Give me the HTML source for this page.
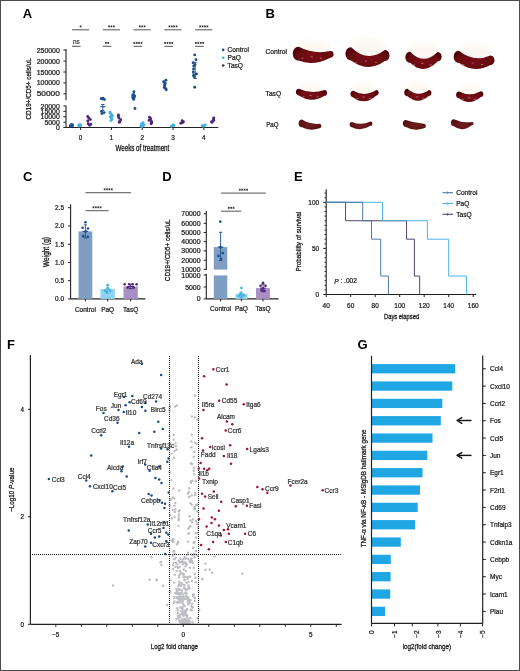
<!DOCTYPE html>
<html><head><meta charset="utf-8"><style>
html,body{margin:0;padding:0;background:#fff;}
svg{display:block;will-change:transform;filter:blur(0.3px);}
text{font-family:"Liberation Sans", sans-serif;} text.r{stroke:#1a1a1a;stroke-width:0.22px;}
</style></head><body>
<svg width="520" height="671" viewBox="0 0 520 671">
<defs><radialGradient id="sp" cx="50%" cy="55%" r="60%">
<stop offset="0" stop-color="#7a0e18"/><stop offset="0.6" stop-color="#6a0810"/><stop offset="1" stop-color="#4e050b"/></radialGradient>
<radialGradient id="sp2" cx="50%" cy="55%" r="60%">
<stop offset="0" stop-color="#722020"/><stop offset="0.6" stop-color="#621618"/><stop offset="1" stop-color="#4c1012"/></radialGradient>
<filter id="blur1" x="-30%" y="-50%" width="160%" height="200%"><feGaussianBlur stdDeviation="2.2"/></filter>
<filter id="blur0" x="-10%" y="-10%" width="120%" height="120%"><feGaussianBlur stdDeviation="0.35"/></filter></defs>
<rect x="0" y="0" width="520" height="671" fill="#fff"/>
<text x="22.80" y="17.80" font-size="13" text-anchor="start" fill="#000" dominant-baseline="alphabetic" font-weight="bold" >A</text>
<text x="265.40" y="17.70" font-size="13" text-anchor="start" fill="#000" dominant-baseline="alphabetic" font-weight="bold" >B</text>
<text x="23.00" y="181.20" font-size="13" text-anchor="start" fill="#000" dominant-baseline="alphabetic" font-weight="bold" >C</text>
<text x="162.20" y="180.90" font-size="13" text-anchor="start" fill="#000" dominant-baseline="alphabetic" font-weight="bold" >D</text>
<text x="294.00" y="181.00" font-size="13" text-anchor="start" fill="#000" dominant-baseline="alphabetic" font-weight="bold" >E</text>
<text x="7.00" y="348.80" font-size="13" text-anchor="start" fill="#000" dominant-baseline="alphabetic" font-weight="bold" >F</text>
<text x="357.60" y="348.60" font-size="13" text-anchor="start" fill="#000" dominant-baseline="alphabetic" font-weight="bold" >G</text>
<line x1="66.00" y1="49.00" x2="66.00" y2="100.20" stroke="#222" stroke-width="1.1" />
<line x1="66.00" y1="105.60" x2="66.00" y2="127.60" stroke="#222" stroke-width="1.1" />
<line x1="63.40" y1="50.00" x2="66.00" y2="50.00" stroke="#222" stroke-width="1" />
<text x="59.80" y="50.00" font-size="6.4" text-anchor="end" fill="#1a1a1a" dominant-baseline="central" stroke="#1a1a1a" stroke-width="0.22" textLength="23.1" lengthAdjust="spacingAndGlyphs" >250000</text>
<line x1="63.40" y1="61.10" x2="66.00" y2="61.10" stroke="#222" stroke-width="1" />
<text x="59.80" y="61.10" font-size="6.4" text-anchor="end" fill="#1a1a1a" dominant-baseline="central" stroke="#1a1a1a" stroke-width="0.22" textLength="23.1" lengthAdjust="spacingAndGlyphs" >200000</text>
<line x1="63.40" y1="72.00" x2="66.00" y2="72.00" stroke="#222" stroke-width="1" />
<text x="59.80" y="72.00" font-size="6.4" text-anchor="end" fill="#1a1a1a" dominant-baseline="central" stroke="#1a1a1a" stroke-width="0.22" textLength="23.1" lengthAdjust="spacingAndGlyphs" >150000</text>
<line x1="63.40" y1="82.90" x2="66.00" y2="82.90" stroke="#222" stroke-width="1" />
<text x="59.80" y="82.90" font-size="6.4" text-anchor="end" fill="#1a1a1a" dominant-baseline="central" stroke="#1a1a1a" stroke-width="0.22" textLength="23.1" lengthAdjust="spacingAndGlyphs" >100000</text>
<line x1="63.40" y1="93.80" x2="66.00" y2="93.80" stroke="#222" stroke-width="1" />
<text x="59.80" y="93.80" font-size="6.4" text-anchor="end" fill="#1a1a1a" dominant-baseline="central" stroke="#1a1a1a" stroke-width="0.22" textLength="23.1" lengthAdjust="spacingAndGlyphs" >50000</text>
<line x1="63.40" y1="106.00" x2="66.00" y2="106.00" stroke="#222" stroke-width="1" />
<text x="59.80" y="106.00" font-size="6.4" text-anchor="end" fill="#1a1a1a" dominant-baseline="central" stroke="#1a1a1a" stroke-width="0.22" textLength="19.25" lengthAdjust="spacingAndGlyphs" >20000</text>
<line x1="63.40" y1="111.40" x2="66.00" y2="111.40" stroke="#222" stroke-width="1" />
<text x="59.80" y="111.40" font-size="6.4" text-anchor="end" fill="#1a1a1a" dominant-baseline="central" stroke="#1a1a1a" stroke-width="0.22" textLength="19.25" lengthAdjust="spacingAndGlyphs" >15000</text>
<line x1="63.40" y1="116.80" x2="66.00" y2="116.80" stroke="#222" stroke-width="1" />
<text x="59.80" y="116.80" font-size="6.4" text-anchor="end" fill="#1a1a1a" dominant-baseline="central" stroke="#1a1a1a" stroke-width="0.22" textLength="19.25" lengthAdjust="spacingAndGlyphs" >10000</text>
<line x1="63.40" y1="122.20" x2="66.00" y2="122.20" stroke="#222" stroke-width="1" />
<text x="59.80" y="122.20" font-size="6.4" text-anchor="end" fill="#1a1a1a" dominant-baseline="central" stroke="#1a1a1a" stroke-width="0.22" textLength="15.4" lengthAdjust="spacingAndGlyphs" >5000</text>
<line x1="63.40" y1="127.50" x2="66.00" y2="127.50" stroke="#222" stroke-width="1" />
<text x="59.80" y="127.50" font-size="6.4" text-anchor="end" fill="#1a1a1a" dominant-baseline="central" stroke="#1a1a1a" stroke-width="0.22" textLength="3.85" lengthAdjust="spacingAndGlyphs" >0</text>
<text x="0" y="0" font-size="7.8" text-anchor="middle" fill="#1a1a1a" dominant-baseline="central" stroke="#1a1a1a" stroke-width="0.3" textLength="61.1" lengthAdjust="spacingAndGlyphs" transform="translate(28.10,88.90) rotate(-90)" >CD19+/CD5+ cells/uL</text>
<line x1="66.00" y1="127.50" x2="218.30" y2="127.50" stroke="#222" stroke-width="1.1" />
<line x1="80.60" y1="127.50" x2="80.60" y2="130.00" stroke="#222" stroke-width="1" />
<text x="80.60" y="137.30" font-size="6.4" text-anchor="middle" fill="#1a1a1a" dominant-baseline="central" stroke="#1a1a1a" stroke-width="0.22" >0</text>
<line x1="111.40" y1="127.50" x2="111.40" y2="130.00" stroke="#222" stroke-width="1" />
<text x="111.40" y="137.30" font-size="6.4" text-anchor="middle" fill="#1a1a1a" dominant-baseline="central" stroke="#1a1a1a" stroke-width="0.22" >1</text>
<line x1="142.20" y1="127.50" x2="142.20" y2="130.00" stroke="#222" stroke-width="1" />
<text x="142.20" y="137.30" font-size="6.4" text-anchor="middle" fill="#1a1a1a" dominant-baseline="central" stroke="#1a1a1a" stroke-width="0.22" >2</text>
<line x1="173.00" y1="127.50" x2="173.00" y2="130.00" stroke="#222" stroke-width="1" />
<text x="173.00" y="137.30" font-size="6.4" text-anchor="middle" fill="#1a1a1a" dominant-baseline="central" stroke="#1a1a1a" stroke-width="0.22" >3</text>
<line x1="203.80" y1="127.50" x2="203.80" y2="130.00" stroke="#222" stroke-width="1" />
<text x="203.80" y="137.30" font-size="6.4" text-anchor="middle" fill="#1a1a1a" dominant-baseline="central" stroke="#1a1a1a" stroke-width="0.22" >4</text>
<text x="142.40" y="148.50" font-size="8.2" text-anchor="middle" fill="#1a1a1a" dominant-baseline="central" stroke="#1a1a1a" stroke-width="0.3" textLength="53.8" lengthAdjust="spacingAndGlyphs" >Weeks of treatment</text>
<line x1="72.00" y1="29.80" x2="89.20" y2="29.80" stroke="#555" stroke-width="1.0" />
<line x1="72.00" y1="46.30" x2="80.60" y2="46.30" stroke="#555" stroke-width="1.0" />
<path d="M80.60,25.40V27.40M79.70,25.90L81.50,26.90M79.70,26.90L81.50,25.90" stroke="#222" stroke-width="0.7" fill="none"/>
<text x="76.30" y="41.30" font-size="6.4" text-anchor="middle" fill="#444" dominant-baseline="central" stroke="#444" stroke-width="0.22" >ns</text>
<line x1="102.80" y1="29.80" x2="120.00" y2="29.80" stroke="#555" stroke-width="1.0" />
<line x1="102.80" y1="46.30" x2="111.40" y2="46.30" stroke="#555" stroke-width="1.0" />
<path d="M109.00,25.40V27.40M108.10,25.90L109.90,26.90M108.10,26.90L109.90,25.90" stroke="#222" stroke-width="0.7" fill="none"/>
<path d="M111.40,25.40V27.40M110.50,25.90L112.30,26.90M110.50,26.90L112.30,25.90" stroke="#222" stroke-width="0.7" fill="none"/>
<path d="M113.80,25.40V27.40M112.90,25.90L114.70,26.90M112.90,26.90L114.70,25.90" stroke="#222" stroke-width="0.7" fill="none"/>
<path d="M105.90,41.90V43.90M105.00,42.40L106.80,43.40M105.00,43.40L106.80,42.40" stroke="#222" stroke-width="0.7" fill="none"/>
<path d="M108.30,41.90V43.90M107.40,42.40L109.20,43.40M107.40,43.40L109.20,42.40" stroke="#222" stroke-width="0.7" fill="none"/>
<line x1="133.60" y1="29.80" x2="150.80" y2="29.80" stroke="#555" stroke-width="1.0" />
<line x1="133.60" y1="46.30" x2="142.20" y2="46.30" stroke="#555" stroke-width="1.0" />
<path d="M139.80,25.40V27.40M138.90,25.90L140.70,26.90M138.90,26.90L140.70,25.90" stroke="#222" stroke-width="0.7" fill="none"/>
<path d="M142.20,25.40V27.40M141.30,25.90L143.10,26.90M141.30,26.90L143.10,25.90" stroke="#222" stroke-width="0.7" fill="none"/>
<path d="M144.60,25.40V27.40M143.70,25.90L145.50,26.90M143.70,26.90L145.50,25.90" stroke="#222" stroke-width="0.7" fill="none"/>
<path d="M134.30,41.90V43.90M133.40,42.40L135.20,43.40M133.40,43.40L135.20,42.40" stroke="#222" stroke-width="0.7" fill="none"/>
<path d="M136.70,41.90V43.90M135.80,42.40L137.60,43.40M135.80,43.40L137.60,42.40" stroke="#222" stroke-width="0.7" fill="none"/>
<path d="M139.10,41.90V43.90M138.20,42.40L140.00,43.40M138.20,43.40L140.00,42.40" stroke="#222" stroke-width="0.7" fill="none"/>
<path d="M141.50,41.90V43.90M140.60,42.40L142.40,43.40M140.60,43.40L142.40,42.40" stroke="#222" stroke-width="0.7" fill="none"/>
<line x1="164.40" y1="29.80" x2="181.60" y2="29.80" stroke="#555" stroke-width="1.0" />
<line x1="164.40" y1="46.30" x2="173.00" y2="46.30" stroke="#555" stroke-width="1.0" />
<path d="M169.40,25.40V27.40M168.50,25.90L170.30,26.90M168.50,26.90L170.30,25.90" stroke="#222" stroke-width="0.7" fill="none"/>
<path d="M171.80,25.40V27.40M170.90,25.90L172.70,26.90M170.90,26.90L172.70,25.90" stroke="#222" stroke-width="0.7" fill="none"/>
<path d="M174.20,25.40V27.40M173.30,25.90L175.10,26.90M173.30,26.90L175.10,25.90" stroke="#222" stroke-width="0.7" fill="none"/>
<path d="M176.60,25.40V27.40M175.70,25.90L177.50,26.90M175.70,26.90L177.50,25.90" stroke="#222" stroke-width="0.7" fill="none"/>
<path d="M165.10,41.90V43.90M164.20,42.40L166.00,43.40M164.20,43.40L166.00,42.40" stroke="#222" stroke-width="0.7" fill="none"/>
<path d="M167.50,41.90V43.90M166.60,42.40L168.40,43.40M166.60,43.40L168.40,42.40" stroke="#222" stroke-width="0.7" fill="none"/>
<path d="M169.90,41.90V43.90M169.00,42.40L170.80,43.40M169.00,43.40L170.80,42.40" stroke="#222" stroke-width="0.7" fill="none"/>
<path d="M172.30,41.90V43.90M171.40,42.40L173.20,43.40M171.40,43.40L173.20,42.40" stroke="#222" stroke-width="0.7" fill="none"/>
<line x1="195.20" y1="29.80" x2="212.40" y2="29.80" stroke="#555" stroke-width="1.0" />
<line x1="195.20" y1="46.30" x2="203.80" y2="46.30" stroke="#555" stroke-width="1.0" />
<path d="M200.20,25.40V27.40M199.30,25.90L201.10,26.90M199.30,26.90L201.10,25.90" stroke="#222" stroke-width="0.7" fill="none"/>
<path d="M202.60,25.40V27.40M201.70,25.90L203.50,26.90M201.70,26.90L203.50,25.90" stroke="#222" stroke-width="0.7" fill="none"/>
<path d="M205.00,25.40V27.40M204.10,25.90L205.90,26.90M204.10,26.90L205.90,25.90" stroke="#222" stroke-width="0.7" fill="none"/>
<path d="M207.40,25.40V27.40M206.50,25.90L208.30,26.90M206.50,26.90L208.30,25.90" stroke="#222" stroke-width="0.7" fill="none"/>
<path d="M195.90,41.90V43.90M195.00,42.40L196.80,43.40M195.00,43.40L196.80,42.40" stroke="#222" stroke-width="0.7" fill="none"/>
<path d="M198.30,41.90V43.90M197.40,42.40L199.20,43.40M197.40,43.40L199.20,42.40" stroke="#222" stroke-width="0.7" fill="none"/>
<path d="M200.70,41.90V43.90M199.80,42.40L201.60,43.40M199.80,43.40L201.60,42.40" stroke="#222" stroke-width="0.7" fill="none"/>
<path d="M203.10,41.90V43.90M202.20,42.40L204.00,43.40M202.20,43.40L204.00,42.40" stroke="#222" stroke-width="0.7" fill="none"/>
<circle cx="71.37" cy="124.80" r="1.45" fill="#1c4f8a" />
<circle cx="70.74" cy="125.30" r="1.45" fill="#1c4f8a" />
<circle cx="72.54" cy="125.80" r="1.45" fill="#1c4f8a" />
<circle cx="70.46" cy="126.20" r="1.45" fill="#1c4f8a" />
<circle cx="72.13" cy="124.60" r="1.45" fill="#1c4f8a" />
<circle cx="71.52" cy="125.90" r="1.45" fill="#1c4f8a" />
<circle cx="79.01" cy="125.00" r="1.45" fill="#3fb3e3" />
<circle cx="80.63" cy="125.60" r="1.45" fill="#3fb3e3" />
<circle cx="78.93" cy="126.00" r="1.45" fill="#3fb3e3" />
<circle cx="80.36" cy="124.80" r="1.45" fill="#3fb3e3" />
<circle cx="79.05" cy="125.80" r="1.45" fill="#3fb3e3" />
<circle cx="87.73" cy="116.50" r="1.45" fill="#4e2577" />
<circle cx="88.93" cy="118.20" r="1.45" fill="#4e2577" />
<circle cx="90.38" cy="119.60" r="1.45" fill="#4e2577" />
<circle cx="87.85" cy="121.00" r="1.45" fill="#4e2577" />
<circle cx="88.20" cy="123.80" r="1.45" fill="#4e2577" />
<circle cx="89.66" cy="125.20" r="1.45" fill="#4e2577" />
<circle cx="90.81" cy="124.20" r="1.45" fill="#4e2577" />
<circle cx="103.08" cy="98.20" r="1.45" fill="#1c4f8a" />
<circle cx="102.43" cy="99.00" r="1.45" fill="#1c4f8a" />
<circle cx="104.51" cy="99.60" r="1.45" fill="#1c4f8a" />
<circle cx="101.17" cy="98.60" r="1.45" fill="#1c4f8a" />
<circle cx="104.09" cy="112.60" r="1.45" fill="#1c4f8a" />
<circle cx="102.04" cy="113.60" r="1.45" fill="#1c4f8a" />
<circle cx="101.52" cy="111.50" r="1.45" fill="#1c4f8a" />
<circle cx="110.02" cy="112.30" r="1.45" fill="#3fb3e3" />
<circle cx="110.71" cy="114.00" r="1.45" fill="#3fb3e3" />
<circle cx="112.54" cy="115.50" r="1.45" fill="#3fb3e3" />
<circle cx="110.25" cy="117.00" r="1.45" fill="#3fb3e3" />
<circle cx="111.69" cy="118.50" r="1.45" fill="#3fb3e3" />
<circle cx="111.90" cy="119.50" r="1.45" fill="#3fb3e3" />
<circle cx="110.94" cy="120.60" r="1.45" fill="#3fb3e3" />
<circle cx="111.57" cy="116.20" r="1.45" fill="#3fb3e3" />
<circle cx="118.43" cy="115.00" r="1.45" fill="#4e2577" />
<circle cx="118.41" cy="116.50" r="1.45" fill="#4e2577" />
<circle cx="118.94" cy="118.00" r="1.45" fill="#4e2577" />
<circle cx="120.65" cy="119.80" r="1.45" fill="#4e2577" />
<circle cx="119.74" cy="121.50" r="1.45" fill="#4e2577" />
<circle cx="119.33" cy="122.30" r="1.45" fill="#4e2577" />
<circle cx="133.91" cy="91.70" r="1.45" fill="#1c4f8a" />
<circle cx="133.43" cy="94.50" r="1.45" fill="#1c4f8a" />
<circle cx="132.88" cy="95.20" r="1.45" fill="#1c4f8a" />
<circle cx="134.66" cy="96.00" r="1.45" fill="#1c4f8a" />
<circle cx="134.32" cy="96.80" r="1.45" fill="#1c4f8a" />
<circle cx="132.68" cy="97.50" r="1.45" fill="#1c4f8a" />
<circle cx="133.87" cy="98.40" r="1.45" fill="#1c4f8a" />
<circle cx="133.69" cy="99.40" r="1.45" fill="#1c4f8a" />
<circle cx="134.95" cy="108.50" r="1.45" fill="#1c4f8a" />
<circle cx="143.03" cy="122.80" r="1.45" fill="#3fb3e3" />
<circle cx="141.44" cy="124.00" r="1.45" fill="#3fb3e3" />
<circle cx="143.93" cy="125.00" r="1.45" fill="#3fb3e3" />
<circle cx="140.83" cy="126.00" r="1.45" fill="#3fb3e3" />
<circle cx="141.91" cy="126.50" r="1.45" fill="#3fb3e3" />
<circle cx="143.13" cy="125.50" r="1.45" fill="#3fb3e3" />
<circle cx="149.55" cy="117.30" r="1.45" fill="#4e2577" />
<circle cx="150.76" cy="118.80" r="1.45" fill="#4e2577" />
<circle cx="149.14" cy="120.30" r="1.45" fill="#4e2577" />
<circle cx="151.41" cy="121.50" r="1.45" fill="#4e2577" />
<circle cx="151.75" cy="122.80" r="1.45" fill="#4e2577" />
<circle cx="151.06" cy="123.80" r="1.45" fill="#4e2577" />
<circle cx="165.90" cy="80.30" r="1.45" fill="#1c4f8a" />
<circle cx="163.65" cy="81.80" r="1.45" fill="#1c4f8a" />
<circle cx="165.18" cy="83.20" r="1.45" fill="#1c4f8a" />
<circle cx="164.78" cy="84.50" r="1.45" fill="#1c4f8a" />
<circle cx="164.72" cy="86.00" r="1.45" fill="#1c4f8a" />
<circle cx="164.22" cy="87.50" r="1.45" fill="#1c4f8a" />
<circle cx="165.76" cy="88.60" r="1.45" fill="#1c4f8a" />
<circle cx="166.18" cy="89.80" r="1.45" fill="#1c4f8a" />
<circle cx="172.91" cy="125.00" r="1.45" fill="#3fb3e3" />
<circle cx="173.59" cy="125.80" r="1.45" fill="#3fb3e3" />
<circle cx="171.42" cy="126.30" r="1.45" fill="#3fb3e3" />
<circle cx="173.73" cy="125.30" r="1.45" fill="#3fb3e3" />
<circle cx="182.13" cy="120.80" r="1.45" fill="#4e2577" />
<circle cx="183.38" cy="121.80" r="1.45" fill="#4e2577" />
<circle cx="182.76" cy="122.60" r="1.45" fill="#4e2577" />
<circle cx="180.82" cy="123.20" r="1.45" fill="#4e2577" />
<circle cx="194.70" cy="54.90" r="1.45" fill="#1c4f8a" />
<circle cx="195.94" cy="59.80" r="1.45" fill="#1c4f8a" />
<circle cx="193.10" cy="62.70" r="1.45" fill="#1c4f8a" />
<circle cx="195.03" cy="64.80" r="1.45" fill="#1c4f8a" />
<circle cx="193.74" cy="66.00" r="1.45" fill="#1c4f8a" />
<circle cx="193.52" cy="69.00" r="1.45" fill="#1c4f8a" />
<circle cx="193.26" cy="72.00" r="1.45" fill="#1c4f8a" />
<circle cx="196.38" cy="74.00" r="1.45" fill="#1c4f8a" />
<circle cx="193.57" cy="75.50" r="1.45" fill="#1c4f8a" />
<circle cx="194.09" cy="76.80" r="1.45" fill="#1c4f8a" />
<circle cx="194.72" cy="87.20" r="1.45" fill="#1c4f8a" />
<circle cx="205.14" cy="125.00" r="1.45" fill="#3fb3e3" />
<circle cx="202.29" cy="125.70" r="1.45" fill="#3fb3e3" />
<circle cx="203.62" cy="126.30" r="1.45" fill="#3fb3e3" />
<circle cx="203.98" cy="125.40" r="1.45" fill="#3fb3e3" />
<circle cx="213.78" cy="118.00" r="1.45" fill="#4e2577" />
<circle cx="213.55" cy="119.30" r="1.45" fill="#4e2577" />
<circle cx="213.71" cy="120.60" r="1.45" fill="#4e2577" />
<circle cx="211.60" cy="121.80" r="1.45" fill="#4e2577" />
<circle cx="212.10" cy="122.40" r="1.45" fill="#4e2577" />
<line x1="100.20" y1="106.70" x2="105.40" y2="106.70" stroke="#1c4f8a" stroke-width="1.1" />
<line x1="102.80" y1="104.50" x2="102.80" y2="110.50" stroke="#1c4f8a" stroke-width="0.9" />
<line x1="101.24" y1="104.50" x2="104.36" y2="104.50" stroke="#1c4f8a" stroke-width="0.9" />
<line x1="101.24" y1="110.50" x2="104.36" y2="110.50" stroke="#1c4f8a" stroke-width="0.9" />
<line x1="192.60" y1="74.00" x2="197.80" y2="74.00" stroke="#1c4f8a" stroke-width="1.1" />
<line x1="195.20" y1="62.50" x2="195.20" y2="78.50" stroke="#1c4f8a" stroke-width="0.9" />
<line x1="193.64" y1="62.50" x2="196.76" y2="62.50" stroke="#1c4f8a" stroke-width="0.9" />
<line x1="193.64" y1="78.50" x2="196.76" y2="78.50" stroke="#1c4f8a" stroke-width="0.9" />
<circle cx="223.20" cy="49.90" r="1.3" fill="#1c4f8a" />
<text x="227.60" y="49.90" font-size="6.6" text-anchor="start" fill="#1a1a1a" dominant-baseline="central" stroke="#1a1a1a" stroke-width="0.22" >Control</text>
<circle cx="223.20" cy="57.70" r="1.3" fill="#3fb3e3" />
<text x="227.60" y="57.70" font-size="6.6" text-anchor="start" fill="#1a1a1a" dominant-baseline="central" stroke="#1a1a1a" stroke-width="0.22" >PaQ</text>
<circle cx="223.20" cy="65.50" r="1.3" fill="#4e2577" />
<text x="227.60" y="65.50" font-size="6.6" text-anchor="start" fill="#1a1a1a" dominant-baseline="central" stroke="#1a1a1a" stroke-width="0.22" >TasQ</text>
<text x="265.50" y="51.90" font-size="6.6" text-anchor="start" fill="#1a1a1a" dominant-baseline="central" stroke="#1a1a1a" stroke-width="0.22" textLength="21.5" lengthAdjust="spacingAndGlyphs" >Control</text>
<text x="265.60" y="93.00" font-size="6.6" text-anchor="start" fill="#1a1a1a" dominant-baseline="central" stroke="#1a1a1a" stroke-width="0.22" textLength="15.5" lengthAdjust="spacingAndGlyphs" >TasQ</text>
<text x="266.20" y="124.50" font-size="6.6" text-anchor="start" fill="#1a1a1a" dominant-baseline="central" stroke="#1a1a1a" stroke-width="0.22" textLength="12.5" lengthAdjust="spacingAndGlyphs" >PaQ</text>
<ellipse cx="312.9" cy="48.0" rx="16.8" ry="8.0" fill="#faf1e2" opacity="0.45" filter="url(#blur1)"/>
<path d="M298.8,46.8 Q312.9,54.6 330.9,51.1 C334.5,51.1 334.5,57.4 330.9,57.4 Q312.9,66.6 298.8,60.5 C290.9,60.5 290.9,46.8 298.8,46.8 Z" fill="url(#sp)" filter="url(#blur0)"/>
<ellipse cx="302.4" cy="58.3" rx="1.3" ry="0.6" fill="#e8b0b0" opacity="0.5"/>
<ellipse cx="311.7" cy="56.8" rx="1.3" ry="0.6" fill="#e8b0b0" opacity="0.5"/>
<ellipse cx="320.9" cy="58.3" rx="1.3" ry="0.6" fill="#e8b0b0" opacity="0.5"/>
<ellipse cx="367.4" cy="47.7" rx="18.2" ry="9.9" fill="#faf1e2" opacity="0.45" filter="url(#blur1)"/>
<path d="M351.2,47.2 Q367.4,63.3 384.8,50.1 C391.0,50.1 391.0,61.0 384.8,61.0 Q367.4,73.2 351.2,60.5 C343.6,60.5 343.6,47.2 351.2,47.2 Z" fill="url(#sp)" filter="url(#blur0)"/>
<ellipse cx="356.0" cy="62.5" rx="1.3" ry="0.6" fill="#e8b0b0" opacity="0.5"/>
<ellipse cx="366.0" cy="61.0" rx="1.3" ry="0.6" fill="#e8b0b0" opacity="0.5"/>
<ellipse cx="376.1" cy="62.5" rx="1.3" ry="0.6" fill="#e8b0b0" opacity="0.5"/>
<ellipse cx="423.5" cy="50.9" rx="15.1" ry="8.6" fill="#faf1e2" opacity="0.45" filter="url(#blur1)"/>
<path d="M410.2,51.7 Q423.5,65.8 437.6,52.0 C443.0,52.0 443.0,61.5 437.6,61.5 Q423.5,75.8 410.2,62.8 C403.8,62.8 403.8,51.7 410.2,51.7 Z" fill="url(#sp)" filter="url(#blur0)"/>
<ellipse cx="414.0" cy="64.9" rx="1.3" ry="0.6" fill="#e8b0b0" opacity="0.5"/>
<ellipse cx="422.3" cy="63.4" rx="1.3" ry="0.6" fill="#e8b0b0" opacity="0.5"/>
<ellipse cx="430.6" cy="64.9" rx="1.3" ry="0.6" fill="#e8b0b0" opacity="0.5"/>
<ellipse cx="474.0" cy="52.1" rx="16.9" ry="9.1" fill="#faf1e2" opacity="0.45" filter="url(#blur1)"/>
<path d="M458.9,50.7 Q474.0,62.9 490.4,55.5 C495.9,55.5 495.9,65.0 490.4,65.0 Q474.0,74.1 458.9,62.8 C452.0,62.8 452.0,50.7 458.9,50.7 Z" fill="url(#sp)" filter="url(#blur0)"/>
<ellipse cx="463.5" cy="64.5" rx="1.3" ry="0.6" fill="#e8b0b0" opacity="0.5"/>
<ellipse cx="472.8" cy="63.0" rx="1.3" ry="0.6" fill="#e8b0b0" opacity="0.5"/>
<ellipse cx="482.1" cy="64.5" rx="1.3" ry="0.6" fill="#e8b0b0" opacity="0.5"/>
<ellipse cx="311.4" cy="88.3" rx="12.8" ry="5.5" fill="#faf1e2" opacity="0.45" filter="url(#blur1)"/>
<path d="M298.8,88.7 Q311.4,94.7 324.6,90.0 C327.9,90.0 327.9,95.8 324.6,95.8 Q311.4,103.8 298.8,95.5 C294.9,95.5 294.9,88.7 298.8,88.7 Z" fill="url(#sp)" filter="url(#blur0)"/>
<ellipse cx="303.4" cy="96.8" rx="1.3" ry="0.6" fill="#e8b0b0" opacity="0.5"/>
<ellipse cx="310.5" cy="95.3" rx="1.3" ry="0.6" fill="#e8b0b0" opacity="0.5"/>
<ellipse cx="317.5" cy="96.8" rx="1.3" ry="0.6" fill="#e8b0b0" opacity="0.5"/>
<ellipse cx="364.5" cy="89.4" rx="11.6" ry="5.2" fill="#faf1e2" opacity="0.45" filter="url(#blur1)"/>
<path d="M353.4,90.7 Q364.5,97.4 376.4,90.1 C379.4,90.1 379.4,95.4 376.4,95.4 Q364.5,106.0 353.4,97.4 C349.5,97.4 349.5,90.7 353.4,90.7 Z" fill="url(#sp)" filter="url(#blur0)"/>
<ellipse cx="357.2" cy="98.6" rx="1.3" ry="0.6" fill="#e8b0b0" opacity="0.5"/>
<ellipse cx="363.6" cy="97.1" rx="1.3" ry="0.6" fill="#e8b0b0" opacity="0.5"/>
<ellipse cx="370.0" cy="98.6" rx="1.3" ry="0.6" fill="#e8b0b0" opacity="0.5"/>
<ellipse cx="417.8" cy="88.3" rx="11.3" ry="6.0" fill="#faf1e2" opacity="0.45" filter="url(#blur1)"/>
<path d="M407.5,88.7 Q417.8,98.2 429.0,90.0 C432.3,90.0 432.3,95.8 429.0,95.8 Q417.8,105.5 407.5,96.3 C403.1,96.3 403.1,88.7 407.5,88.7 Z" fill="url(#sp)" filter="url(#blur0)"/>
<ellipse cx="410.8" cy="98.3" rx="1.3" ry="0.6" fill="#e8b0b0" opacity="0.5"/>
<ellipse cx="417.0" cy="96.8" rx="1.3" ry="0.6" fill="#e8b0b0" opacity="0.5"/>
<ellipse cx="423.2" cy="98.3" rx="1.3" ry="0.6" fill="#e8b0b0" opacity="0.5"/>
<ellipse cx="469.7" cy="90.3" rx="11.3" ry="5.3" fill="#faf1e2" opacity="0.45" filter="url(#blur1)"/>
<path d="M459.0,91.5 Q469.7,97.1 480.9,91.2 C484.2,91.2 484.2,97.0 480.9,97.0 Q469.7,106.5 459.0,98.3 C455.1,98.3 455.1,91.5 459.0,91.5 Z" fill="url(#sp)" filter="url(#blur0)"/>
<ellipse cx="462.7" cy="99.2" rx="1.3" ry="0.6" fill="#e8b0b0" opacity="0.5"/>
<ellipse cx="468.9" cy="97.7" rx="1.3" ry="0.6" fill="#e8b0b0" opacity="0.5"/>
<ellipse cx="475.1" cy="99.2" rx="1.3" ry="0.6" fill="#e8b0b0" opacity="0.5"/>
<path d="M302.0,119.6 Q309.9,124.5 319.4,123.8 C322.0,123.8 322.0,128.3 319.4,128.3 Q309.9,131.4 302.0,127.3 C297.5,127.3 297.5,119.6 302.0,119.6 Z" fill="url(#sp2)" filter="url(#blur0)"/>
<path d="M351.9,121.9 Q360.9,125.9 370.6,121.5 C373.0,121.5 373.0,125.8 370.6,125.8 Q360.9,131.8 351.9,127.3 C348.8,127.3 348.8,121.9 351.9,121.9 Z" fill="url(#sp2)" filter="url(#blur0)"/>
<path d="M405.8,120.0 Q414.2,123.1 423.9,123.8 C426.5,123.8 426.5,128.3 423.9,128.3 Q414.2,131.6 405.8,126.9 C401.8,126.9 401.8,120.0 405.8,120.0 Z" fill="url(#sp2)" filter="url(#blur0)"/>
<path d="M453.9,119.2 Q462.1,123.2 472.2,121.9 C474.0,121.9 474.0,125.0 472.2,125.0 Q462.1,132.7 453.9,126.3 C449.9,126.3 449.9,119.2 453.9,119.2 Z" fill="url(#sp2)" filter="url(#blur0)"/>
<line x1="70.60" y1="204.20" x2="70.60" y2="298.90" stroke="#222" stroke-width="1.1" />
<line x1="68.00" y1="298.90" x2="70.60" y2="298.90" stroke="#222" stroke-width="1" />
<text x="64.00" y="298.90" font-size="6.4" text-anchor="end" fill="#1a1a1a" dominant-baseline="central" stroke="#1a1a1a" stroke-width="0.22" textLength="9.0" lengthAdjust="spacingAndGlyphs" >0.0</text>
<line x1="68.00" y1="280.66" x2="70.60" y2="280.66" stroke="#222" stroke-width="1" />
<text x="64.00" y="280.66" font-size="6.4" text-anchor="end" fill="#1a1a1a" dominant-baseline="central" stroke="#1a1a1a" stroke-width="0.22" textLength="9.0" lengthAdjust="spacingAndGlyphs" >0.5</text>
<line x1="68.00" y1="262.42" x2="70.60" y2="262.42" stroke="#222" stroke-width="1" />
<text x="64.00" y="262.42" font-size="6.4" text-anchor="end" fill="#1a1a1a" dominant-baseline="central" stroke="#1a1a1a" stroke-width="0.22" textLength="9.0" lengthAdjust="spacingAndGlyphs" >1.0</text>
<line x1="68.00" y1="244.18" x2="70.60" y2="244.18" stroke="#222" stroke-width="1" />
<text x="64.00" y="244.18" font-size="6.4" text-anchor="end" fill="#1a1a1a" dominant-baseline="central" stroke="#1a1a1a" stroke-width="0.22" textLength="9.0" lengthAdjust="spacingAndGlyphs" >1.5</text>
<line x1="68.00" y1="225.94" x2="70.60" y2="225.94" stroke="#222" stroke-width="1" />
<text x="64.00" y="225.94" font-size="6.4" text-anchor="end" fill="#1a1a1a" dominant-baseline="central" stroke="#1a1a1a" stroke-width="0.22" textLength="9.0" lengthAdjust="spacingAndGlyphs" >2.0</text>
<line x1="68.00" y1="207.70" x2="70.60" y2="207.70" stroke="#222" stroke-width="1" />
<text x="64.00" y="207.70" font-size="6.4" text-anchor="end" fill="#1a1a1a" dominant-baseline="central" stroke="#1a1a1a" stroke-width="0.22" textLength="9.0" lengthAdjust="spacingAndGlyphs" >2.5</text>
<line x1="70.60" y1="298.90" x2="145.40" y2="298.90" stroke="#222" stroke-width="1.1" />
<rect x="78.50" y="231.41" width="13.80" height="67.49" fill="#7e9fc3" />
<line x1="85.40" y1="298.90" x2="85.40" y2="301.40" stroke="#222" stroke-width="1" />
<text x="85.40" y="309.30" font-size="6.5" text-anchor="middle" fill="#1a1a1a" dominant-baseline="central" stroke="#1a1a1a" stroke-width="0.22" >Control</text>
<rect x="100.40" y="289.05" width="14.50" height="9.85" fill="#8ed3f1" />
<line x1="107.65" y1="298.90" x2="107.65" y2="301.40" stroke="#222" stroke-width="1" />
<text x="107.65" y="309.30" font-size="6.5" text-anchor="middle" fill="#1a1a1a" dominant-baseline="central" stroke="#1a1a1a" stroke-width="0.22" >PaQ</text>
<rect x="123.50" y="286.50" width="14.30" height="12.40" fill="#a98fc5" />
<line x1="130.65" y1="298.90" x2="130.65" y2="301.40" stroke="#222" stroke-width="1" />
<text x="130.65" y="309.30" font-size="6.5" text-anchor="middle" fill="#1a1a1a" dominant-baseline="central" stroke="#1a1a1a" stroke-width="0.22" >TasQ</text>
<line x1="82.60" y1="231.41" x2="88.20" y2="231.41" stroke="#1c4f8a" stroke-width="1.1" />
<line x1="85.40" y1="224.85" x2="85.40" y2="237.98" stroke="#1c4f8a" stroke-width="0.9" />
<line x1="83.72" y1="224.85" x2="87.08" y2="224.85" stroke="#1c4f8a" stroke-width="0.9" />
<line x1="83.72" y1="237.98" x2="87.08" y2="237.98" stroke="#1c4f8a" stroke-width="0.9" />
<circle cx="85.40" cy="222.29" r="1.3" fill="#1c4f8a" />
<circle cx="82.60" cy="227.76" r="1.3" fill="#1c4f8a" />
<circle cx="88.00" cy="228.49" r="1.3" fill="#1c4f8a" />
<circle cx="83.20" cy="236.15" r="1.3" fill="#1c4f8a" />
<circle cx="87.80" cy="236.88" r="1.3" fill="#1c4f8a" />
<circle cx="85.60" cy="231.41" r="1.3" fill="#1c4f8a" />
<line x1="104.85" y1="289.05" x2="110.45" y2="289.05" stroke="#3fb3e3" stroke-width="1.1" />
<line x1="107.65" y1="285.04" x2="107.65" y2="293.06" stroke="#3fb3e3" stroke-width="0.9" />
<line x1="105.97" y1="285.04" x2="109.33" y2="285.04" stroke="#3fb3e3" stroke-width="0.9" />
<line x1="105.97" y1="293.06" x2="109.33" y2="293.06" stroke="#3fb3e3" stroke-width="0.9" />
<circle cx="107.65" cy="285.04" r="1.3" fill="#3fb3e3" />
<circle cx="105.05" cy="290.87" r="1.3" fill="#3fb3e3" />
<circle cx="110.25" cy="290.87" r="1.3" fill="#3fb3e3" />
<circle cx="107.65" cy="287.96" r="1.3" fill="#3fb3e3" />
<circle cx="106.65" cy="292.33" r="1.3" fill="#3fb3e3" />
<line x1="127.45" y1="286.50" x2="133.85" y2="286.50" stroke="#4e2577" stroke-width="1.1" />
<line x1="130.65" y1="284.31" x2="130.65" y2="288.69" stroke="#4e2577" stroke-width="0.9" />
<line x1="128.73" y1="284.31" x2="132.57" y2="284.31" stroke="#4e2577" stroke-width="0.9" />
<line x1="128.73" y1="288.69" x2="132.57" y2="288.69" stroke="#4e2577" stroke-width="0.9" />
<circle cx="124.65" cy="284.31" r="1.3" fill="#4e2577" />
<circle cx="129.15" cy="284.31" r="1.3" fill="#4e2577" />
<circle cx="132.65" cy="284.31" r="1.3" fill="#4e2577" />
<circle cx="136.65" cy="284.31" r="1.3" fill="#4e2577" />
<circle cx="127.65" cy="287.59" r="1.3" fill="#4e2577" />
<circle cx="133.65" cy="287.59" r="1.3" fill="#4e2577" />
<line x1="85.40" y1="192.70" x2="130.90" y2="192.70" stroke="#555" stroke-width="1" />
<path d="M104.60,188.30V190.30M103.70,188.80L105.50,189.80M103.70,189.80L105.50,188.80" stroke="#222" stroke-width="0.7" fill="none"/>
<path d="M107.00,188.30V190.30M106.10,188.80L107.90,189.80M106.10,189.80L107.90,188.80" stroke="#222" stroke-width="0.7" fill="none"/>
<path d="M109.40,188.30V190.30M108.50,188.80L110.30,189.80M108.50,189.80L110.30,188.80" stroke="#222" stroke-width="0.7" fill="none"/>
<path d="M111.80,188.30V190.30M110.90,188.80L112.70,189.80M110.90,189.80L112.70,188.80" stroke="#222" stroke-width="0.7" fill="none"/>
<line x1="85.40" y1="210.70" x2="108.50" y2="210.70" stroke="#555" stroke-width="1" />
<path d="M93.40,206.30V208.30M92.50,206.80L94.30,207.80M92.50,207.80L94.30,206.80" stroke="#222" stroke-width="0.7" fill="none"/>
<path d="M95.80,206.30V208.30M94.90,206.80L96.70,207.80M94.90,207.80L96.70,206.80" stroke="#222" stroke-width="0.7" fill="none"/>
<path d="M98.20,206.30V208.30M97.30,206.80L99.10,207.80M97.30,207.80L99.10,206.80" stroke="#222" stroke-width="0.7" fill="none"/>
<path d="M100.60,206.30V208.30M99.70,206.80L101.50,207.80M99.70,207.80L101.50,206.80" stroke="#222" stroke-width="0.7" fill="none"/>
<text x="0" y="0" font-size="8.2" text-anchor="middle" fill="#1a1a1a" dominant-baseline="central" stroke="#1a1a1a" stroke-width="0.3" textLength="29.8" lengthAdjust="spacingAndGlyphs" transform="translate(46.20,252.00) rotate(-90)" >Weight (g)</text>
<line x1="206.30" y1="211.00" x2="206.30" y2="269.90" stroke="#222" stroke-width="1.1" />
<line x1="206.30" y1="273.80" x2="206.30" y2="298.90" stroke="#222" stroke-width="1.1" />
<line x1="203.70" y1="213.80" x2="206.30" y2="213.80" stroke="#222" stroke-width="1" />
<text x="200.60" y="213.80" font-size="6.4" text-anchor="end" fill="#1a1a1a" dominant-baseline="central" stroke="#1a1a1a" stroke-width="0.22" textLength="19.3" lengthAdjust="spacingAndGlyphs" >70000</text>
<line x1="203.70" y1="223.30" x2="206.30" y2="223.30" stroke="#222" stroke-width="1" />
<text x="200.60" y="223.30" font-size="6.4" text-anchor="end" fill="#1a1a1a" dominant-baseline="central" stroke="#1a1a1a" stroke-width="0.22" textLength="19.3" lengthAdjust="spacingAndGlyphs" >60000</text>
<line x1="203.70" y1="232.50" x2="206.30" y2="232.50" stroke="#222" stroke-width="1" />
<text x="200.60" y="232.50" font-size="6.4" text-anchor="end" fill="#1a1a1a" dominant-baseline="central" stroke="#1a1a1a" stroke-width="0.22" textLength="19.3" lengthAdjust="spacingAndGlyphs" >50000</text>
<line x1="203.70" y1="241.60" x2="206.30" y2="241.60" stroke="#222" stroke-width="1" />
<text x="200.60" y="241.60" font-size="6.4" text-anchor="end" fill="#1a1a1a" dominant-baseline="central" stroke="#1a1a1a" stroke-width="0.22" textLength="19.3" lengthAdjust="spacingAndGlyphs" >40000</text>
<line x1="203.70" y1="250.90" x2="206.30" y2="250.90" stroke="#222" stroke-width="1" />
<text x="200.60" y="250.90" font-size="6.4" text-anchor="end" fill="#1a1a1a" dominant-baseline="central" stroke="#1a1a1a" stroke-width="0.22" textLength="19.3" lengthAdjust="spacingAndGlyphs" >30000</text>
<line x1="203.70" y1="260.20" x2="206.30" y2="260.20" stroke="#222" stroke-width="1" />
<text x="200.60" y="260.20" font-size="6.4" text-anchor="end" fill="#1a1a1a" dominant-baseline="central" stroke="#1a1a1a" stroke-width="0.22" textLength="19.3" lengthAdjust="spacingAndGlyphs" >20000</text>
<line x1="203.70" y1="269.30" x2="206.30" y2="269.30" stroke="#222" stroke-width="1" />
<text x="200.60" y="269.30" font-size="6.4" text-anchor="end" fill="#1a1a1a" dominant-baseline="central" stroke="#1a1a1a" stroke-width="0.22" textLength="19.3" lengthAdjust="spacingAndGlyphs" >10000</text>
<line x1="203.70" y1="275.00" x2="206.30" y2="275.00" stroke="#222" stroke-width="1" />
<text x="200.60" y="275.00" font-size="6.4" text-anchor="end" fill="#1a1a1a" dominant-baseline="central" stroke="#1a1a1a" stroke-width="0.22" textLength="19.3" lengthAdjust="spacingAndGlyphs" >10000</text>
<line x1="203.70" y1="287.00" x2="206.30" y2="287.00" stroke="#222" stroke-width="1" />
<text x="200.60" y="287.00" font-size="6.4" text-anchor="end" fill="#1a1a1a" dominant-baseline="central" stroke="#1a1a1a" stroke-width="0.22" textLength="15.440000000000001" lengthAdjust="spacingAndGlyphs" >5000</text>
<line x1="203.70" y1="298.90" x2="206.30" y2="298.90" stroke="#222" stroke-width="1" />
<text x="200.60" y="298.90" font-size="6.4" text-anchor="end" fill="#1a1a1a" dominant-baseline="central" stroke="#1a1a1a" stroke-width="0.22" textLength="3.8600000000000003" lengthAdjust="spacingAndGlyphs" >0</text>
<line x1="206.30" y1="298.90" x2="278.50" y2="298.90" stroke="#222" stroke-width="1.1" />
<rect x="213.80" y="247.10" width="13.50" height="22.50" fill="#7e9fc3" />
<rect x="213.80" y="275.40" width="13.50" height="23.50" fill="#7e9fc3" />
<rect x="235.40" y="293.88" width="12.10" height="5.02" fill="#8ed3f1" />
<rect x="256.00" y="288.14" width="13.90" height="10.75" fill="#a98fc5" />
<line x1="220.60" y1="298.90" x2="220.60" y2="301.40" stroke="#222" stroke-width="1" />
<text x="220.60" y="308.80" font-size="6.5" text-anchor="middle" fill="#1a1a1a" dominant-baseline="central" stroke="#1a1a1a" stroke-width="0.22" >Control</text>
<line x1="241.40" y1="298.90" x2="241.40" y2="301.40" stroke="#222" stroke-width="1" />
<text x="241.40" y="308.80" font-size="6.5" text-anchor="middle" fill="#1a1a1a" dominant-baseline="central" stroke="#1a1a1a" stroke-width="0.22" >PaQ</text>
<line x1="263.00" y1="298.90" x2="263.00" y2="301.40" stroke="#222" stroke-width="1" />
<text x="263.00" y="308.80" font-size="6.5" text-anchor="middle" fill="#1a1a1a" dominant-baseline="central" stroke="#1a1a1a" stroke-width="0.22" >TasQ</text>
<line x1="217.80" y1="247.10" x2="223.40" y2="247.10" stroke="#1c4f8a" stroke-width="1.1" />
<line x1="220.60" y1="232.30" x2="220.60" y2="260.51" stroke="#1c4f8a" stroke-width="0.9" />
<line x1="218.92" y1="232.30" x2="222.28" y2="232.30" stroke="#1c4f8a" stroke-width="0.9" />
<line x1="218.92" y1="260.51" x2="222.28" y2="260.51" stroke="#1c4f8a" stroke-width="0.9" />
<circle cx="220.30" cy="221.66" r="1.3" fill="#1c4f8a" />
<circle cx="220.40" cy="247.10" r="1.3" fill="#1c4f8a" />
<circle cx="222.80" cy="253.11" r="1.3" fill="#1c4f8a" />
<circle cx="218.40" cy="255.89" r="1.3" fill="#1c4f8a" />
<circle cx="221.00" cy="259.12" r="1.3" fill="#1c4f8a" />
<line x1="238.80" y1="293.88" x2="244.00" y2="293.88" stroke="#3fb3e3" stroke-width="1.1" />
<line x1="241.40" y1="291.97" x2="241.40" y2="295.79" stroke="#3fb3e3" stroke-width="0.9" />
<line x1="239.84" y1="291.97" x2="242.96" y2="291.97" stroke="#3fb3e3" stroke-width="0.9" />
<line x1="239.84" y1="295.79" x2="242.96" y2="295.79" stroke="#3fb3e3" stroke-width="0.9" />
<circle cx="241.40" cy="287.91" r="1.3" fill="#3fb3e3" />
<circle cx="238.90" cy="296.03" r="1.3" fill="#3fb3e3" />
<circle cx="243.90" cy="295.55" r="1.3" fill="#3fb3e3" />
<circle cx="241.40" cy="297.23" r="1.3" fill="#3fb3e3" />
<circle cx="240.40" cy="293.64" r="1.3" fill="#3fb3e3" />
<line x1="260.00" y1="288.14" x2="266.00" y2="288.14" stroke="#4e2577" stroke-width="1.1" />
<line x1="263.00" y1="284.08" x2="263.00" y2="291.73" stroke="#4e2577" stroke-width="0.9" />
<line x1="261.20" y1="284.08" x2="264.80" y2="284.08" stroke="#4e2577" stroke-width="0.9" />
<line x1="261.20" y1="291.73" x2="264.80" y2="291.73" stroke="#4e2577" stroke-width="0.9" />
<circle cx="263.00" cy="282.89" r="1.3" fill="#4e2577" />
<circle cx="260.50" cy="285.75" r="1.3" fill="#4e2577" />
<circle cx="265.50" cy="285.75" r="1.3" fill="#4e2577" />
<circle cx="261.50" cy="290.53" r="1.3" fill="#4e2577" />
<circle cx="264.50" cy="291.01" r="1.3" fill="#4e2577" />
<circle cx="263.00" cy="288.38" r="1.3" fill="#4e2577" />
<line x1="221.00" y1="193.10" x2="265.80" y2="193.10" stroke="#555" stroke-width="1" />
<path d="M239.80,188.70V190.70M238.90,189.20L240.70,190.20M238.90,190.20L240.70,189.20" stroke="#222" stroke-width="0.7" fill="none"/>
<path d="M242.20,188.70V190.70M241.30,189.20L243.10,190.20M241.30,190.20L243.10,189.20" stroke="#222" stroke-width="0.7" fill="none"/>
<path d="M244.60,188.70V190.70M243.70,189.20L245.50,190.20M243.70,190.20L245.50,189.20" stroke="#222" stroke-width="0.7" fill="none"/>
<path d="M247.00,188.70V190.70M246.10,189.20L247.90,190.20M246.10,190.20L247.90,189.20" stroke="#222" stroke-width="0.7" fill="none"/>
<line x1="221.00" y1="211.20" x2="241.30" y2="211.20" stroke="#555" stroke-width="1" />
<path d="M228.80,206.80V208.80M227.90,207.30L229.70,208.30M227.90,208.30L229.70,207.30" stroke="#222" stroke-width="0.7" fill="none"/>
<path d="M231.20,206.80V208.80M230.30,207.30L232.10,208.30M230.30,208.30L232.10,207.30" stroke="#222" stroke-width="0.7" fill="none"/>
<path d="M233.60,206.80V208.80M232.70,207.30L234.50,208.30M232.70,208.30L234.50,207.30" stroke="#222" stroke-width="0.7" fill="none"/>
<text x="0" y="0" font-size="7.8" text-anchor="middle" fill="#1a1a1a" dominant-baseline="central" stroke="#1a1a1a" stroke-width="0.3" textLength="61.8" lengthAdjust="spacingAndGlyphs" transform="translate(167.00,250.30) rotate(-90)" >CD19+/CD5+ cells/uL</text>
<line x1="326.20" y1="189.30" x2="326.20" y2="294.50" stroke="#222" stroke-width="1.1" />
<line x1="326.20" y1="294.50" x2="476.30" y2="294.50" stroke="#222" stroke-width="1.1" />
<line x1="323.20" y1="294.50" x2="326.20" y2="294.50" stroke="#222" stroke-width="1.0" />
<line x1="324.60" y1="289.89" x2="326.20" y2="289.89" stroke="#222" stroke-width="1.0" />
<line x1="324.60" y1="285.28" x2="326.20" y2="285.28" stroke="#222" stroke-width="1.0" />
<line x1="324.60" y1="280.67" x2="326.20" y2="280.67" stroke="#222" stroke-width="1.0" />
<line x1="324.60" y1="276.06" x2="326.20" y2="276.06" stroke="#222" stroke-width="1.0" />
<line x1="324.60" y1="271.45" x2="326.20" y2="271.45" stroke="#222" stroke-width="1.0" />
<line x1="324.60" y1="266.84" x2="326.20" y2="266.84" stroke="#222" stroke-width="1.0" />
<line x1="324.60" y1="262.23" x2="326.20" y2="262.23" stroke="#222" stroke-width="1.0" />
<line x1="324.60" y1="257.62" x2="326.20" y2="257.62" stroke="#222" stroke-width="1.0" />
<line x1="324.60" y1="253.01" x2="326.20" y2="253.01" stroke="#222" stroke-width="1.0" />
<line x1="323.20" y1="248.40" x2="326.20" y2="248.40" stroke="#222" stroke-width="1.0" />
<line x1="324.60" y1="243.79" x2="326.20" y2="243.79" stroke="#222" stroke-width="1.0" />
<line x1="324.60" y1="239.18" x2="326.20" y2="239.18" stroke="#222" stroke-width="1.0" />
<line x1="324.60" y1="234.57" x2="326.20" y2="234.57" stroke="#222" stroke-width="1.0" />
<line x1="324.60" y1="229.96" x2="326.20" y2="229.96" stroke="#222" stroke-width="1.0" />
<line x1="324.60" y1="225.35" x2="326.20" y2="225.35" stroke="#222" stroke-width="1.0" />
<line x1="324.60" y1="220.74" x2="326.20" y2="220.74" stroke="#222" stroke-width="1.0" />
<line x1="324.60" y1="216.13" x2="326.20" y2="216.13" stroke="#222" stroke-width="1.0" />
<line x1="324.60" y1="211.52" x2="326.20" y2="211.52" stroke="#222" stroke-width="1.0" />
<line x1="324.60" y1="206.91" x2="326.20" y2="206.91" stroke="#222" stroke-width="1.0" />
<line x1="323.20" y1="202.30" x2="326.20" y2="202.30" stroke="#222" stroke-width="1.0" />
<line x1="324.60" y1="197.69" x2="326.20" y2="197.69" stroke="#222" stroke-width="1.0" />
<line x1="324.60" y1="193.08" x2="326.20" y2="193.08" stroke="#222" stroke-width="1.0" />
<text x="319.20" y="202.30" font-size="6.5" text-anchor="end" fill="#1a1a1a" dominant-baseline="central" stroke="#1a1a1a" stroke-width="0.22" >100</text>
<text x="319.20" y="248.40" font-size="6.5" text-anchor="end" fill="#1a1a1a" dominant-baseline="central" stroke="#1a1a1a" stroke-width="0.22" >50</text>
<text x="319.20" y="294.50" font-size="6.5" text-anchor="end" fill="#1a1a1a" dominant-baseline="central" stroke="#1a1a1a" stroke-width="0.22" >0</text>
<line x1="326.20" y1="294.50" x2="326.20" y2="297.10" stroke="#222" stroke-width="1" />
<text x="326.20" y="305.00" font-size="6.5" text-anchor="middle" fill="#1a1a1a" dominant-baseline="central" stroke="#1a1a1a" stroke-width="0.22" >40</text>
<line x1="350.70" y1="294.50" x2="350.70" y2="297.10" stroke="#222" stroke-width="1" />
<text x="350.70" y="305.00" font-size="6.5" text-anchor="middle" fill="#1a1a1a" dominant-baseline="central" stroke="#1a1a1a" stroke-width="0.22" >60</text>
<line x1="375.20" y1="294.50" x2="375.20" y2="297.10" stroke="#222" stroke-width="1" />
<text x="375.20" y="305.00" font-size="6.5" text-anchor="middle" fill="#1a1a1a" dominant-baseline="central" stroke="#1a1a1a" stroke-width="0.22" >80</text>
<line x1="399.70" y1="294.50" x2="399.70" y2="297.10" stroke="#222" stroke-width="1" />
<text x="399.70" y="305.00" font-size="6.5" text-anchor="middle" fill="#1a1a1a" dominant-baseline="central" stroke="#1a1a1a" stroke-width="0.22" >100</text>
<line x1="424.20" y1="294.50" x2="424.20" y2="297.10" stroke="#222" stroke-width="1" />
<text x="424.20" y="305.00" font-size="6.5" text-anchor="middle" fill="#1a1a1a" dominant-baseline="central" stroke="#1a1a1a" stroke-width="0.22" >120</text>
<line x1="448.70" y1="294.50" x2="448.70" y2="297.10" stroke="#222" stroke-width="1" />
<text x="448.70" y="305.00" font-size="6.5" text-anchor="middle" fill="#1a1a1a" dominant-baseline="central" stroke="#1a1a1a" stroke-width="0.22" >140</text>
<line x1="473.20" y1="294.50" x2="473.20" y2="297.10" stroke="#222" stroke-width="1" />
<text x="473.20" y="305.00" font-size="6.5" text-anchor="middle" fill="#1a1a1a" dominant-baseline="central" stroke="#1a1a1a" stroke-width="0.22" >160</text>
<text x="401.60" y="316.90" font-size="8.0" text-anchor="middle" fill="#1a1a1a" dominant-baseline="central" stroke="#1a1a1a" stroke-width="0.3" textLength="35.2" lengthAdjust="spacingAndGlyphs" >Days elapsed</text>
<text x="0" y="0" font-size="7.8" text-anchor="middle" fill="#1a1a1a" dominant-baseline="central" stroke="#1a1a1a" stroke-width="0.3" textLength="59.6" lengthAdjust="spacingAndGlyphs" transform="translate(298.50,241.70) rotate(-90)" >Probability of survival</text>
<polyline points="326.20,202.30 345.56,202.30 345.56,220.74 406.56,220.74 406.56,239.18 414.40,239.18 414.40,276.06 419.67,276.06 419.67,294.50" fill="none" stroke="#54446e" stroke-width="1.0"/>
<polyline points="326.20,202.30 382.55,202.30 382.55,220.74 427.38,220.74 427.38,239.18 448.70,239.18 448.70,276.06 466.46,276.06 466.46,294.50" fill="none" stroke="#4cb4e4" stroke-width="1.0"/>
<polyline points="326.20,202.30 362.70,202.30 362.70,220.74 371.52,220.74 371.52,239.18 380.71,239.18 380.71,276.06 388.43,276.06 388.43,294.50" fill="none" stroke="#4a7aa5" stroke-width="1.0"/>
<line x1="442.50" y1="192.70" x2="453.00" y2="192.70" stroke="#4a7aa5" stroke-width="1.1" />
<line x1="447.70" y1="191.30" x2="447.70" y2="194.10" stroke="#4a7aa5" stroke-width="0.8" />
<text x="456.20" y="192.70" font-size="6.6" text-anchor="start" fill="#1a1a1a" dominant-baseline="central" stroke="#1a1a1a" stroke-width="0.22" >Control</text>
<line x1="442.50" y1="203.50" x2="453.00" y2="203.50" stroke="#4cb4e4" stroke-width="1.1" />
<line x1="447.70" y1="202.10" x2="447.70" y2="204.90" stroke="#4cb4e4" stroke-width="0.8" />
<text x="456.20" y="203.50" font-size="6.6" text-anchor="start" fill="#1a1a1a" dominant-baseline="central" stroke="#1a1a1a" stroke-width="0.22" >PaQ</text>
<line x1="442.50" y1="214.30" x2="453.00" y2="214.30" stroke="#54446e" stroke-width="1.1" />
<line x1="447.70" y1="212.90" x2="447.70" y2="215.70" stroke="#54446e" stroke-width="0.8" />
<text x="456.20" y="214.30" font-size="6.6" text-anchor="start" fill="#1a1a1a" dominant-baseline="central" stroke="#1a1a1a" stroke-width="0.22" >TasQ</text>
<text x="334.20" y="280.60" font-size="6.6" text-anchor="start" fill="#1a1a1a" dominant-baseline="central" stroke="#1a1a1a" stroke-width="0.22" ><tspan font-style="italic">P</tspan> : .002</text>
<circle cx="194.70" cy="598.03" r="1.2" fill="#bdbdc5" />
<circle cx="179.30" cy="593.99" r="1.2" fill="#bdbdc5" />
<circle cx="178.02" cy="615.53" r="1.2" fill="#bdbdc5" />
<circle cx="184.20" cy="620.35" r="1.2" fill="#bdbdc5" />
<circle cx="185.94" cy="620.52" r="1.2" fill="#bdbdc5" />
<circle cx="172.77" cy="555.55" r="1.2" fill="#bdbdc5" />
<circle cx="186.46" cy="582.84" r="1.2" fill="#bdbdc5" />
<circle cx="185.93" cy="592.47" r="1.2" fill="#bdbdc5" />
<circle cx="183.85" cy="615.21" r="1.2" fill="#bdbdc5" />
<circle cx="182.54" cy="598.88" r="1.2" fill="#bdbdc5" />
<circle cx="179.72" cy="593.15" r="1.2" fill="#bdbdc5" />
<circle cx="188.50" cy="597.67" r="1.2" fill="#bdbdc5" />
<circle cx="193.59" cy="554.21" r="1.2" fill="#bdbdc5" />
<circle cx="184.02" cy="612.87" r="1.2" fill="#bdbdc5" />
<circle cx="183.41" cy="621.47" r="1.2" fill="#bdbdc5" />
<circle cx="178.89" cy="602.67" r="1.2" fill="#bdbdc5" />
<circle cx="178.99" cy="567.09" r="1.2" fill="#bdbdc5" />
<circle cx="183.79" cy="596.76" r="1.2" fill="#bdbdc5" />
<circle cx="177.58" cy="601.91" r="1.2" fill="#bdbdc5" />
<circle cx="186.56" cy="610.39" r="1.2" fill="#bdbdc5" />
<circle cx="191.45" cy="606.32" r="1.2" fill="#bdbdc5" />
<circle cx="185.43" cy="611.85" r="1.2" fill="#bdbdc5" />
<circle cx="183.12" cy="621.93" r="1.2" fill="#bdbdc5" />
<circle cx="186.87" cy="598.38" r="1.2" fill="#bdbdc5" />
<circle cx="190.10" cy="576.61" r="1.2" fill="#bdbdc5" />
<circle cx="189.09" cy="600.28" r="1.2" fill="#bdbdc5" />
<circle cx="191.63" cy="610.39" r="1.2" fill="#bdbdc5" />
<circle cx="186.16" cy="563.92" r="1.2" fill="#bdbdc5" />
<circle cx="188.09" cy="602.13" r="1.2" fill="#bdbdc5" />
<circle cx="192.60" cy="554.93" r="1.2" fill="#bdbdc5" />
<circle cx="184.36" cy="611.11" r="1.2" fill="#bdbdc5" />
<circle cx="187.12" cy="621.33" r="1.2" fill="#bdbdc5" />
<circle cx="184.14" cy="588.36" r="1.2" fill="#bdbdc5" />
<circle cx="176.81" cy="597.97" r="1.2" fill="#bdbdc5" />
<circle cx="193.28" cy="595.76" r="1.2" fill="#bdbdc5" />
<circle cx="180.17" cy="617.24" r="1.2" fill="#bdbdc5" />
<circle cx="183.79" cy="569.56" r="1.2" fill="#bdbdc5" />
<circle cx="188.66" cy="559.18" r="1.2" fill="#bdbdc5" />
<circle cx="191.37" cy="558.34" r="1.2" fill="#bdbdc5" />
<circle cx="187.33" cy="619.87" r="1.2" fill="#bdbdc5" />
<circle cx="184.66" cy="557.25" r="1.2" fill="#bdbdc5" />
<circle cx="173.06" cy="569.07" r="1.2" fill="#bdbdc5" />
<circle cx="187.05" cy="608.88" r="1.2" fill="#bdbdc5" />
<circle cx="177.73" cy="612.95" r="1.2" fill="#bdbdc5" />
<circle cx="179.50" cy="566.67" r="1.2" fill="#bdbdc5" />
<circle cx="186.03" cy="614.40" r="1.2" fill="#bdbdc5" />
<circle cx="185.27" cy="610.43" r="1.2" fill="#bdbdc5" />
<circle cx="183.23" cy="603.88" r="1.2" fill="#bdbdc5" />
<circle cx="178.44" cy="618.45" r="1.2" fill="#bdbdc5" />
<circle cx="174.04" cy="582.60" r="1.2" fill="#bdbdc5" />
<circle cx="184.78" cy="588.23" r="1.2" fill="#bdbdc5" />
<circle cx="182.29" cy="561.77" r="1.2" fill="#bdbdc5" />
<circle cx="194.52" cy="557.24" r="1.2" fill="#bdbdc5" />
<circle cx="185.02" cy="576.73" r="1.2" fill="#bdbdc5" />
<circle cx="175.08" cy="554.06" r="1.2" fill="#bdbdc5" />
<circle cx="179.63" cy="562.62" r="1.2" fill="#bdbdc5" />
<circle cx="187.56" cy="578.88" r="1.2" fill="#bdbdc5" />
<circle cx="170.50" cy="580.37" r="1.2" fill="#bdbdc5" />
<circle cx="172.86" cy="565.09" r="1.2" fill="#bdbdc5" />
<circle cx="178.79" cy="589.12" r="1.2" fill="#bdbdc5" />
<circle cx="189.58" cy="602.95" r="1.2" fill="#bdbdc5" />
<circle cx="179.72" cy="583.98" r="1.2" fill="#bdbdc5" />
<circle cx="182.83" cy="564.36" r="1.2" fill="#bdbdc5" />
<circle cx="189.43" cy="588.50" r="1.2" fill="#bdbdc5" />
<circle cx="193.84" cy="567.84" r="1.2" fill="#bdbdc5" />
<circle cx="188.67" cy="586.94" r="1.2" fill="#bdbdc5" />
<circle cx="182.20" cy="612.84" r="1.2" fill="#bdbdc5" />
<circle cx="192.01" cy="560.89" r="1.2" fill="#bdbdc5" />
<circle cx="185.52" cy="623.74" r="1.2" fill="#bdbdc5" />
<circle cx="178.00" cy="616.38" r="1.2" fill="#bdbdc5" />
<circle cx="195.81" cy="582.36" r="1.2" fill="#bdbdc5" />
<circle cx="188.41" cy="581.89" r="1.2" fill="#bdbdc5" />
<circle cx="179.93" cy="599.56" r="1.2" fill="#bdbdc5" />
<circle cx="173.66" cy="602.81" r="1.2" fill="#bdbdc5" />
<circle cx="180.27" cy="607.38" r="1.2" fill="#bdbdc5" />
<circle cx="177.59" cy="566.98" r="1.2" fill="#bdbdc5" />
<circle cx="184.57" cy="558.35" r="1.2" fill="#bdbdc5" />
<circle cx="186.46" cy="610.05" r="1.2" fill="#bdbdc5" />
<circle cx="187.90" cy="600.76" r="1.2" fill="#bdbdc5" />
<circle cx="178.02" cy="567.78" r="1.2" fill="#bdbdc5" />
<circle cx="182.64" cy="598.02" r="1.2" fill="#bdbdc5" />
<circle cx="183.38" cy="622.69" r="1.2" fill="#bdbdc5" />
<circle cx="187.45" cy="589.29" r="1.2" fill="#bdbdc5" />
<circle cx="190.31" cy="618.23" r="1.2" fill="#bdbdc5" />
<circle cx="185.09" cy="623.31" r="1.2" fill="#bdbdc5" />
<circle cx="181.42" cy="622.47" r="1.2" fill="#bdbdc5" />
<circle cx="178.67" cy="598.45" r="1.2" fill="#bdbdc5" />
<circle cx="175.74" cy="557.62" r="1.2" fill="#bdbdc5" />
<circle cx="186.38" cy="614.68" r="1.2" fill="#bdbdc5" />
<circle cx="183.29" cy="596.60" r="1.2" fill="#bdbdc5" />
<circle cx="183.27" cy="615.84" r="1.2" fill="#bdbdc5" />
<circle cx="178.82" cy="593.06" r="1.2" fill="#bdbdc5" />
<circle cx="174.68" cy="574.64" r="1.2" fill="#bdbdc5" />
<circle cx="179.62" cy="620.68" r="1.2" fill="#bdbdc5" />
<circle cx="178.98" cy="577.38" r="1.2" fill="#bdbdc5" />
<circle cx="189.67" cy="561.79" r="1.2" fill="#bdbdc5" />
<circle cx="176.44" cy="589.42" r="1.2" fill="#bdbdc5" />
<circle cx="177.41" cy="597.21" r="1.2" fill="#bdbdc5" />
<circle cx="182.45" cy="614.35" r="1.2" fill="#bdbdc5" />
<circle cx="195.39" cy="577.76" r="1.2" fill="#bdbdc5" />
<circle cx="175.89" cy="562.64" r="1.2" fill="#bdbdc5" />
<circle cx="182.25" cy="607.13" r="1.2" fill="#bdbdc5" />
<circle cx="185.50" cy="566.38" r="1.2" fill="#bdbdc5" />
<circle cx="181.91" cy="590.82" r="1.2" fill="#bdbdc5" />
<circle cx="193.31" cy="595.49" r="1.2" fill="#bdbdc5" />
<circle cx="185.99" cy="571.05" r="1.2" fill="#bdbdc5" />
<circle cx="184.41" cy="606.16" r="1.2" fill="#bdbdc5" />
<circle cx="180.89" cy="593.35" r="1.2" fill="#bdbdc5" />
<circle cx="190.06" cy="567.71" r="1.2" fill="#bdbdc5" />
<circle cx="186.75" cy="558.42" r="1.2" fill="#bdbdc5" />
<circle cx="181.59" cy="592.59" r="1.2" fill="#bdbdc5" />
<circle cx="175.25" cy="592.88" r="1.2" fill="#bdbdc5" />
<circle cx="181.71" cy="590.09" r="1.2" fill="#bdbdc5" />
<circle cx="190.41" cy="562.59" r="1.2" fill="#bdbdc5" />
<circle cx="175.40" cy="566.80" r="1.2" fill="#bdbdc5" />
<circle cx="182.80" cy="614.58" r="1.2" fill="#bdbdc5" />
<circle cx="182.79" cy="594.33" r="1.2" fill="#bdbdc5" />
<circle cx="184.59" cy="593.39" r="1.2" fill="#bdbdc5" />
<circle cx="176.52" cy="570.95" r="1.2" fill="#bdbdc5" />
<circle cx="182.13" cy="621.66" r="1.2" fill="#bdbdc5" />
<circle cx="194.71" cy="600.77" r="1.2" fill="#bdbdc5" />
<circle cx="186.99" cy="596.53" r="1.2" fill="#bdbdc5" />
<circle cx="188.18" cy="599.36" r="1.2" fill="#bdbdc5" />
<circle cx="192.85" cy="607.34" r="1.2" fill="#bdbdc5" />
<circle cx="181.03" cy="585.65" r="1.2" fill="#bdbdc5" />
<circle cx="184.67" cy="623.38" r="1.2" fill="#bdbdc5" />
<circle cx="185.25" cy="613.02" r="1.2" fill="#bdbdc5" />
<circle cx="188.61" cy="585.51" r="1.2" fill="#bdbdc5" />
<circle cx="189.32" cy="576.69" r="1.2" fill="#bdbdc5" />
<circle cx="180.34" cy="614.77" r="1.2" fill="#bdbdc5" />
<circle cx="180.06" cy="599.14" r="1.2" fill="#bdbdc5" />
<circle cx="186.73" cy="616.93" r="1.2" fill="#bdbdc5" />
<circle cx="179.08" cy="584.61" r="1.2" fill="#bdbdc5" />
<circle cx="178.29" cy="586.13" r="1.2" fill="#bdbdc5" />
<circle cx="183.35" cy="612.69" r="1.2" fill="#bdbdc5" />
<circle cx="192.17" cy="607.42" r="1.2" fill="#bdbdc5" />
<circle cx="178.53" cy="560.69" r="1.2" fill="#bdbdc5" />
<circle cx="197.63" cy="618.33" r="1.2" fill="#bdbdc5" />
<circle cx="183.63" cy="577.04" r="1.2" fill="#bdbdc5" />
<circle cx="181.53" cy="600.22" r="1.2" fill="#bdbdc5" />
<circle cx="188.68" cy="618.74" r="1.2" fill="#bdbdc5" />
<circle cx="180.17" cy="614.58" r="1.2" fill="#bdbdc5" />
<circle cx="180.24" cy="561.67" r="1.2" fill="#bdbdc5" />
<circle cx="183.16" cy="574.48" r="1.2" fill="#bdbdc5" />
<circle cx="184.69" cy="580.32" r="1.2" fill="#bdbdc5" />
<circle cx="182.50" cy="622.85" r="1.2" fill="#bdbdc5" />
<circle cx="186.58" cy="593.47" r="1.2" fill="#bdbdc5" />
<circle cx="182.82" cy="614.41" r="1.2" fill="#bdbdc5" />
<circle cx="186.91" cy="554.85" r="1.2" fill="#bdbdc5" />
<circle cx="185.30" cy="558.22" r="1.2" fill="#bdbdc5" />
<circle cx="180.36" cy="573.94" r="1.2" fill="#bdbdc5" />
<circle cx="178.77" cy="599.62" r="1.2" fill="#bdbdc5" />
<circle cx="185.91" cy="623.69" r="1.2" fill="#bdbdc5" />
<circle cx="174.31" cy="597.92" r="1.2" fill="#bdbdc5" />
<circle cx="182.79" cy="601.36" r="1.2" fill="#bdbdc5" />
<circle cx="181.75" cy="623.62" r="1.2" fill="#bdbdc5" />
<circle cx="180.01" cy="570.90" r="1.2" fill="#bdbdc5" />
<circle cx="174.36" cy="601.42" r="1.2" fill="#bdbdc5" />
<circle cx="193.48" cy="594.25" r="1.2" fill="#bdbdc5" />
<circle cx="182.36" cy="561.67" r="1.2" fill="#bdbdc5" />
<circle cx="181.11" cy="572.85" r="1.2" fill="#bdbdc5" />
<circle cx="177.07" cy="564.35" r="1.2" fill="#bdbdc5" />
<circle cx="183.16" cy="573.73" r="1.2" fill="#bdbdc5" />
<circle cx="187.61" cy="621.45" r="1.2" fill="#bdbdc5" />
<circle cx="178.91" cy="596.84" r="1.2" fill="#bdbdc5" />
<circle cx="184.17" cy="585.18" r="1.2" fill="#bdbdc5" />
<circle cx="180.37" cy="558.81" r="1.2" fill="#bdbdc5" />
<circle cx="179.34" cy="589.36" r="1.2" fill="#bdbdc5" />
<circle cx="176.78" cy="602.45" r="1.2" fill="#bdbdc5" />
<circle cx="183.79" cy="574.19" r="1.2" fill="#bdbdc5" />
<circle cx="188.26" cy="623.38" r="1.2" fill="#bdbdc5" />
<circle cx="189.17" cy="601.62" r="1.2" fill="#bdbdc5" />
<circle cx="185.14" cy="614.90" r="1.2" fill="#bdbdc5" />
<circle cx="181.46" cy="562.16" r="1.2" fill="#bdbdc5" />
<circle cx="176.95" cy="593.99" r="1.2" fill="#bdbdc5" />
<circle cx="182.21" cy="584.09" r="1.2" fill="#bdbdc5" />
<circle cx="189.00" cy="621.20" r="1.2" fill="#bdbdc5" />
<circle cx="191.02" cy="560.06" r="1.2" fill="#bdbdc5" />
<circle cx="180.82" cy="596.63" r="1.2" fill="#bdbdc5" />
<circle cx="180.00" cy="621.98" r="1.2" fill="#bdbdc5" />
<circle cx="190.48" cy="600.28" r="1.2" fill="#bdbdc5" />
<circle cx="182.79" cy="609.38" r="1.2" fill="#bdbdc5" />
<circle cx="185.67" cy="590.04" r="1.2" fill="#bdbdc5" />
<circle cx="189.42" cy="623.66" r="1.2" fill="#bdbdc5" />
<circle cx="187.22" cy="622.64" r="1.2" fill="#bdbdc5" />
<circle cx="173.65" cy="562.85" r="1.2" fill="#bdbdc5" />
<circle cx="192.67" cy="622.34" r="1.2" fill="#bdbdc5" />
<circle cx="185.04" cy="562.16" r="1.2" fill="#bdbdc5" />
<circle cx="179.92" cy="596.21" r="1.2" fill="#bdbdc5" />
<circle cx="182.86" cy="559.45" r="1.2" fill="#bdbdc5" />
<circle cx="174.26" cy="596.88" r="1.2" fill="#bdbdc5" />
<circle cx="182.85" cy="619.31" r="1.2" fill="#bdbdc5" />
<circle cx="183.31" cy="597.79" r="1.2" fill="#bdbdc5" />
<circle cx="185.02" cy="618.83" r="1.2" fill="#bdbdc5" />
<circle cx="179.20" cy="581.74" r="1.2" fill="#bdbdc5" />
<circle cx="182.72" cy="600.37" r="1.2" fill="#bdbdc5" />
<circle cx="170.21" cy="592.29" r="1.2" fill="#bdbdc5" />
<circle cx="183.96" cy="612.34" r="1.2" fill="#bdbdc5" />
<circle cx="185.97" cy="563.26" r="1.2" fill="#bdbdc5" />
<circle cx="177.75" cy="610.28" r="1.2" fill="#bdbdc5" />
<circle cx="177.08" cy="589.72" r="1.2" fill="#bdbdc5" />
<circle cx="186.98" cy="615.23" r="1.2" fill="#bdbdc5" />
<circle cx="197.44" cy="555.77" r="1.2" fill="#bdbdc5" />
<circle cx="187.67" cy="621.89" r="1.2" fill="#bdbdc5" />
<circle cx="182.13" cy="599.97" r="1.2" fill="#bdbdc5" />
<circle cx="185.02" cy="621.37" r="1.2" fill="#bdbdc5" />
<circle cx="192.08" cy="581.07" r="1.2" fill="#bdbdc5" />
<circle cx="186.13" cy="596.14" r="1.2" fill="#bdbdc5" />
<circle cx="184.09" cy="605.58" r="1.2" fill="#bdbdc5" />
<circle cx="176.36" cy="619.07" r="1.2" fill="#bdbdc5" />
<circle cx="184.28" cy="585.20" r="1.2" fill="#bdbdc5" />
<circle cx="180.79" cy="611.12" r="1.2" fill="#bdbdc5" />
<circle cx="192.03" cy="603.87" r="1.2" fill="#bdbdc5" />
<circle cx="169.99" cy="590.95" r="1.2" fill="#bdbdc5" />
<circle cx="190.17" cy="560.86" r="1.2" fill="#bdbdc5" />
<circle cx="186.82" cy="564.75" r="1.2" fill="#bdbdc5" />
<circle cx="179.79" cy="620.88" r="1.2" fill="#bdbdc5" />
<circle cx="181.75" cy="608.53" r="1.2" fill="#bdbdc5" />
<circle cx="185.07" cy="621.20" r="1.2" fill="#bdbdc5" />
<circle cx="177.28" cy="608.21" r="1.2" fill="#bdbdc5" />
<circle cx="184.51" cy="579.66" r="1.2" fill="#bdbdc5" />
<circle cx="187.29" cy="577.09" r="1.2" fill="#bdbdc5" />
<circle cx="182.52" cy="619.19" r="1.2" fill="#bdbdc5" />
<circle cx="174.40" cy="559.22" r="1.2" fill="#bdbdc5" />
<circle cx="185.22" cy="599.06" r="1.2" fill="#bdbdc5" />
<circle cx="179.82" cy="601.76" r="1.2" fill="#bdbdc5" />
<circle cx="183.87" cy="563.09" r="1.2" fill="#bdbdc5" />
<circle cx="188.33" cy="604.26" r="1.2" fill="#bdbdc5" />
<circle cx="181.67" cy="602.59" r="1.2" fill="#bdbdc5" />
<circle cx="177.08" cy="591.55" r="1.2" fill="#bdbdc5" />
<circle cx="179.56" cy="589.88" r="1.2" fill="#bdbdc5" />
<circle cx="190.54" cy="609.65" r="1.2" fill="#bdbdc5" />
<circle cx="177.03" cy="593.41" r="1.2" fill="#bdbdc5" />
<circle cx="181.65" cy="583.05" r="1.2" fill="#bdbdc5" />
<circle cx="190.10" cy="621.74" r="1.2" fill="#bdbdc5" />
<circle cx="181.87" cy="620.94" r="1.2" fill="#bdbdc5" />
<circle cx="192.69" cy="562.72" r="1.2" fill="#bdbdc5" />
<circle cx="179.12" cy="575.49" r="1.2" fill="#bdbdc5" />
<circle cx="182.44" cy="611.91" r="1.2" fill="#bdbdc5" />
<circle cx="194.85" cy="573.94" r="1.2" fill="#bdbdc5" />
<circle cx="169.94" cy="505.34" r="1.2" fill="#bdbdc5" />
<circle cx="174.55" cy="517.02" r="1.2" fill="#bdbdc5" />
<circle cx="197.09" cy="533.11" r="1.2" fill="#bdbdc5" />
<circle cx="173.17" cy="541.97" r="1.2" fill="#bdbdc5" />
<circle cx="171.38" cy="540.44" r="1.2" fill="#bdbdc5" />
<circle cx="173.45" cy="551.83" r="1.2" fill="#bdbdc5" />
<circle cx="195.88" cy="533.26" r="1.2" fill="#bdbdc5" />
<circle cx="178.74" cy="511.53" r="1.2" fill="#bdbdc5" />
<circle cx="191.32" cy="554.33" r="1.2" fill="#bdbdc5" />
<circle cx="191.85" cy="495.33" r="1.2" fill="#bdbdc5" />
<circle cx="187.93" cy="552.73" r="1.2" fill="#bdbdc5" />
<circle cx="173.37" cy="488.61" r="1.2" fill="#bdbdc5" />
<circle cx="187.97" cy="493.46" r="1.2" fill="#bdbdc5" />
<circle cx="197.03" cy="523.80" r="1.2" fill="#bdbdc5" />
<circle cx="189.27" cy="488.15" r="1.2" fill="#bdbdc5" />
<circle cx="172.63" cy="497.66" r="1.2" fill="#bdbdc5" />
<circle cx="189.28" cy="496.80" r="1.2" fill="#bdbdc5" />
<circle cx="195.41" cy="492.94" r="1.2" fill="#bdbdc5" />
<circle cx="196.04" cy="521.12" r="1.2" fill="#bdbdc5" />
<circle cx="170.80" cy="499.53" r="1.2" fill="#bdbdc5" />
<circle cx="174.44" cy="505.66" r="1.2" fill="#bdbdc5" />
<circle cx="189.66" cy="516.20" r="1.2" fill="#bdbdc5" />
<circle cx="195.88" cy="551.06" r="1.2" fill="#bdbdc5" />
<circle cx="192.82" cy="519.57" r="1.2" fill="#bdbdc5" />
<circle cx="194.34" cy="554.27" r="1.2" fill="#bdbdc5" />
<circle cx="192.36" cy="480.82" r="1.2" fill="#bdbdc5" />
<circle cx="172.67" cy="539.76" r="1.2" fill="#bdbdc5" />
<circle cx="188.98" cy="491.80" r="1.2" fill="#bdbdc5" />
<circle cx="171.00" cy="499.46" r="1.2" fill="#bdbdc5" />
<circle cx="197.93" cy="527.77" r="1.2" fill="#bdbdc5" />
<circle cx="178.69" cy="520.09" r="1.2" fill="#bdbdc5" />
<circle cx="171.51" cy="480.10" r="1.2" fill="#bdbdc5" />
<circle cx="188.18" cy="541.66" r="1.2" fill="#bdbdc5" />
<circle cx="188.34" cy="533.74" r="1.2" fill="#bdbdc5" />
<circle cx="170.08" cy="515.15" r="1.2" fill="#bdbdc5" />
<circle cx="177.05" cy="544.30" r="1.2" fill="#bdbdc5" />
<circle cx="197.11" cy="511.27" r="1.2" fill="#bdbdc5" />
<circle cx="178.07" cy="541.97" r="1.2" fill="#bdbdc5" />
<circle cx="178.61" cy="519.43" r="1.2" fill="#bdbdc5" />
<circle cx="190.62" cy="503.36" r="1.2" fill="#bdbdc5" />
<circle cx="175.30" cy="502.93" r="1.2" fill="#bdbdc5" />
<circle cx="194.65" cy="506.98" r="1.2" fill="#bdbdc5" />
<circle cx="175.36" cy="509.57" r="1.2" fill="#bdbdc5" />
<circle cx="194.30" cy="542.23" r="1.2" fill="#bdbdc5" />
<circle cx="194.90" cy="508.28" r="1.2" fill="#bdbdc5" />
<circle cx="192.20" cy="522.31" r="1.2" fill="#bdbdc5" />
<circle cx="195.85" cy="554.37" r="1.2" fill="#bdbdc5" />
<circle cx="190.41" cy="526.21" r="1.2" fill="#bdbdc5" />
<circle cx="190.49" cy="520.48" r="1.2" fill="#bdbdc5" />
<circle cx="194.43" cy="509.42" r="1.2" fill="#bdbdc5" />
<circle cx="195.13" cy="495.00" r="1.2" fill="#bdbdc5" />
<circle cx="174.28" cy="550.88" r="1.2" fill="#bdbdc5" />
<circle cx="196.15" cy="504.87" r="1.2" fill="#bdbdc5" />
<circle cx="179.29" cy="490.56" r="1.2" fill="#bdbdc5" />
<circle cx="189.22" cy="533.12" r="1.2" fill="#bdbdc5" />
<circle cx="193.64" cy="542.77" r="1.2" fill="#bdbdc5" />
<circle cx="188.98" cy="496.99" r="1.2" fill="#bdbdc5" />
<circle cx="179.52" cy="510.51" r="1.2" fill="#bdbdc5" />
<circle cx="174.83" cy="512.03" r="1.2" fill="#bdbdc5" />
<circle cx="196.09" cy="537.51" r="1.2" fill="#bdbdc5" />
<circle cx="191.71" cy="504.86" r="1.2" fill="#bdbdc5" />
<circle cx="172.81" cy="510.05" r="1.2" fill="#bdbdc5" />
<circle cx="173.24" cy="539.23" r="1.2" fill="#bdbdc5" />
<circle cx="190.84" cy="481.39" r="1.2" fill="#bdbdc5" />
<circle cx="188.44" cy="528.80" r="1.2" fill="#bdbdc5" />
<circle cx="171.86" cy="518.20" r="1.2" fill="#bdbdc5" />
<circle cx="178.61" cy="525.86" r="1.2" fill="#bdbdc5" />
<circle cx="193.17" cy="547.72" r="1.2" fill="#bdbdc5" />
<circle cx="178.78" cy="517.53" r="1.2" fill="#bdbdc5" />
<circle cx="174.78" cy="554.01" r="1.2" fill="#bdbdc5" />
<circle cx="178.19" cy="542.66" r="1.2" fill="#bdbdc5" />
<circle cx="189.42" cy="527.03" r="1.2" fill="#bdbdc5" />
<circle cx="174.13" cy="498.34" r="1.2" fill="#bdbdc5" />
<circle cx="197.24" cy="504.69" r="1.2" fill="#bdbdc5" />
<circle cx="178.97" cy="514.73" r="1.2" fill="#bdbdc5" />
<circle cx="170.20" cy="406.53" r="1.2" fill="#bdbdc5" />
<circle cx="194.89" cy="442.66" r="1.2" fill="#bdbdc5" />
<circle cx="169.56" cy="472.29" r="1.2" fill="#bdbdc5" />
<circle cx="175.90" cy="446.13" r="1.2" fill="#bdbdc5" />
<circle cx="197.35" cy="419.53" r="1.2" fill="#bdbdc5" />
<circle cx="196.86" cy="443.75" r="1.2" fill="#bdbdc5" />
<circle cx="191.36" cy="441.57" r="1.2" fill="#bdbdc5" />
<circle cx="169.59" cy="410.31" r="1.2" fill="#bdbdc5" />
<circle cx="174.55" cy="450.96" r="1.2" fill="#bdbdc5" />
<circle cx="174.01" cy="457.70" r="1.2" fill="#bdbdc5" />
<circle cx="190.92" cy="463.32" r="1.2" fill="#bdbdc5" />
<circle cx="191.84" cy="434.78" r="1.2" fill="#bdbdc5" />
<circle cx="175.53" cy="443.41" r="1.2" fill="#bdbdc5" />
<circle cx="194.95" cy="417.41" r="1.2" fill="#bdbdc5" />
<circle cx="176.52" cy="449.54" r="1.2" fill="#bdbdc5" />
<circle cx="169.80" cy="407.30" r="1.2" fill="#bdbdc5" />
<circle cx="173.80" cy="434.94" r="1.2" fill="#bdbdc5" />
<circle cx="171.27" cy="453.59" r="1.2" fill="#bdbdc5" />
<circle cx="169.54" cy="436.29" r="1.2" fill="#bdbdc5" />
<circle cx="193.79" cy="467.68" r="1.2" fill="#bdbdc5" />
<circle cx="170.19" cy="443.11" r="1.2" fill="#bdbdc5" />
<circle cx="173.64" cy="439.63" r="1.2" fill="#bdbdc5" />
<circle cx="113.10" cy="585.40" r="1.2" fill="#bdbdc5" />
<circle cx="160.50" cy="562.30" r="1.2" fill="#bdbdc5" />
<circle cx="161.50" cy="565.00" r="1.2" fill="#bdbdc5" />
<circle cx="156.50" cy="580.00" r="1.2" fill="#bdbdc5" />
<circle cx="163.00" cy="585.70" r="1.2" fill="#bdbdc5" />
<circle cx="149.60" cy="579.80" r="1.2" fill="#bdbdc5" />
<circle cx="156.70" cy="579.80" r="1.2" fill="#bdbdc5" />
<circle cx="151.50" cy="557.30" r="1.2" fill="#bdbdc5" />
<circle cx="161.20" cy="561.90" r="1.2" fill="#bdbdc5" />
<circle cx="167.20" cy="605.00" r="1.2" fill="#bdbdc5" />
<circle cx="205.40" cy="563.60" r="1.2" fill="#bdbdc5" />
<circle cx="205.40" cy="569.80" r="1.2" fill="#bdbdc5" />
<circle cx="209.70" cy="569.40" r="1.2" fill="#bdbdc5" />
<circle cx="212.00" cy="572.60" r="1.2" fill="#bdbdc5" />
<circle cx="202.30" cy="579.00" r="1.2" fill="#bdbdc5" />
<circle cx="242.30" cy="573.80" r="1.2" fill="#bdbdc5" />
<circle cx="214.60" cy="556.50" r="1.2" fill="#bdbdc5" />
<circle cx="199.20" cy="610.30" r="1.2" fill="#bdbdc5" />
<circle cx="202.50" cy="579.20" r="1.2" fill="#bdbdc5" />
<circle cx="195.00" cy="395.80" r="1.2" fill="#bdbdc5" />
<circle cx="175.10" cy="406.50" r="1.2" fill="#bdbdc5" />
<circle cx="177.00" cy="405.40" r="1.2" fill="#bdbdc5" />
<circle cx="192.00" cy="416.50" r="1.2" fill="#bdbdc5" />
<circle cx="191.40" cy="447.20" r="1.2" fill="#bdbdc5" />
<circle cx="194.30" cy="452.00" r="1.2" fill="#bdbdc5" />
<circle cx="193.80" cy="456.80" r="1.2" fill="#bdbdc5" />
<circle cx="192.00" cy="464.00" r="1.2" fill="#bdbdc5" />
<circle cx="193.80" cy="470.80" r="1.2" fill="#bdbdc5" />
<circle cx="194.30" cy="474.10" r="1.2" fill="#bdbdc5" />
<circle cx="195.80" cy="481.30" r="1.2" fill="#bdbdc5" />
<circle cx="191.00" cy="482.80" r="1.2" fill="#bdbdc5" />
<line x1="169.5" y1="356" x2="169.5" y2="624" stroke="#222" stroke-width="1" stroke-dasharray="1,1"/>
<line x1="198.5" y1="356" x2="198.5" y2="624" stroke="#222" stroke-width="1" stroke-dasharray="1,1"/>
<line x1="32" y1="554.5" x2="341.5" y2="554.5" stroke="#222" stroke-width="1" stroke-dasharray="1,1"/>
<circle cx="141.90" cy="363.80" r="1.25" fill="#1d4a85" />
<circle cx="161.10" cy="375.00" r="1.25" fill="#1d4a85" />
<circle cx="124.00" cy="397.00" r="1.25" fill="#1d4a85" />
<circle cx="132.30" cy="396.00" r="1.25" fill="#1d4a85" />
<circle cx="156.10" cy="401.40" r="1.25" fill="#1d4a85" />
<circle cx="129.60" cy="402.30" r="1.25" fill="#1d4a85" />
<circle cx="145.40" cy="402.90" r="1.25" fill="#1d4a85" />
<circle cx="125.60" cy="405.20" r="1.25" fill="#1d4a85" />
<circle cx="141.90" cy="407.00" r="1.25" fill="#1d4a85" />
<circle cx="118.50" cy="410.00" r="1.25" fill="#1d4a85" />
<circle cx="123.80" cy="412.10" r="1.25" fill="#1d4a85" />
<circle cx="145.40" cy="410.70" r="1.25" fill="#1d4a85" />
<circle cx="103.50" cy="413.10" r="1.25" fill="#1d4a85" />
<circle cx="117.50" cy="422.70" r="1.25" fill="#1d4a85" />
<circle cx="158.30" cy="421.80" r="1.25" fill="#1d4a85" />
<circle cx="162.80" cy="428.90" r="1.25" fill="#1d4a85" />
<circle cx="154.30" cy="431.80" r="1.25" fill="#1d4a85" />
<circle cx="139.20" cy="433.00" r="1.25" fill="#1d4a85" />
<circle cx="101.20" cy="435.20" r="1.25" fill="#1d4a85" />
<circle cx="129.00" cy="446.70" r="1.25" fill="#1d4a85" />
<circle cx="161.10" cy="448.50" r="1.25" fill="#1d4a85" />
<circle cx="167.50" cy="449.30" r="1.25" fill="#1d4a85" />
<circle cx="167.30" cy="461.70" r="1.25" fill="#1d4a85" />
<circle cx="91.20" cy="455.60" r="1.25" fill="#1d4a85" />
<circle cx="145.20" cy="464.60" r="1.25" fill="#1d4a85" />
<circle cx="149.60" cy="470.80" r="1.25" fill="#1d4a85" />
<circle cx="159.20" cy="466.50" r="1.25" fill="#1d4a85" />
<circle cx="121.50" cy="471.30" r="1.25" fill="#1d4a85" />
<circle cx="122.70" cy="466.50" r="1.25" fill="#1d4a85" />
<circle cx="126.70" cy="476.50" r="1.25" fill="#1d4a85" />
<circle cx="155.40" cy="478.00" r="1.25" fill="#1d4a85" />
<circle cx="159.20" cy="479.60" r="1.25" fill="#1d4a85" />
<circle cx="161.50" cy="482.90" r="1.25" fill="#1d4a85" />
<circle cx="48.90" cy="479.00" r="1.25" fill="#1d4a85" />
<circle cx="86.20" cy="480.40" r="1.25" fill="#1d4a85" />
<circle cx="90.00" cy="486.20" r="1.25" fill="#1d4a85" />
<circle cx="112.40" cy="491.20" r="1.25" fill="#1d4a85" />
<circle cx="168.70" cy="492.50" r="1.25" fill="#1d4a85" />
<circle cx="148.70" cy="494.00" r="1.25" fill="#1d4a85" />
<circle cx="151.50" cy="495.40" r="1.25" fill="#1d4a85" />
<circle cx="159.60" cy="500.20" r="1.25" fill="#1d4a85" />
<circle cx="162.00" cy="502.70" r="1.25" fill="#1d4a85" />
<circle cx="165.00" cy="503.70" r="1.25" fill="#1d4a85" />
<circle cx="164.40" cy="507.90" r="1.25" fill="#1d4a85" />
<circle cx="147.70" cy="524.60" r="1.25" fill="#1d4a85" />
<circle cx="164.40" cy="522.30" r="1.25" fill="#1d4a85" />
<circle cx="128.80" cy="530.40" r="1.25" fill="#1d4a85" />
<circle cx="163.50" cy="527.90" r="1.25" fill="#1d4a85" />
<circle cx="151.00" cy="533.70" r="1.25" fill="#1d4a85" />
<circle cx="154.80" cy="537.50" r="1.25" fill="#1d4a85" />
<circle cx="159.20" cy="536.50" r="1.25" fill="#1d4a85" />
<circle cx="166.30" cy="532.70" r="1.25" fill="#1d4a85" />
<circle cx="168.30" cy="534.60" r="1.25" fill="#1d4a85" />
<circle cx="145.20" cy="546.50" r="1.25" fill="#1d4a85" />
<circle cx="151.00" cy="542.70" r="1.25" fill="#1d4a85" />
<circle cx="166.30" cy="541.30" r="1.25" fill="#1d4a85" />
<circle cx="165.20" cy="554.00" r="1.25" fill="#1d4a85" />
<circle cx="168.60" cy="458.40" r="1.25" fill="#1d4a85" />
<circle cx="213.40" cy="369.20" r="1.25" fill="#a3142e" />
<circle cx="204.20" cy="376.20" r="1.25" fill="#a3142e" />
<circle cx="226.60" cy="384.60" r="1.25" fill="#a3142e" />
<circle cx="219.20" cy="400.80" r="1.25" fill="#a3142e" />
<circle cx="243.80" cy="404.20" r="1.25" fill="#a3142e" />
<circle cx="203.50" cy="410.00" r="1.25" fill="#a3142e" />
<circle cx="226.90" cy="421.50" r="1.25" fill="#a3142e" />
<circle cx="232.30" cy="424.30" r="1.25" fill="#a3142e" />
<circle cx="225.70" cy="430.50" r="1.25" fill="#a3142e" />
<circle cx="202.00" cy="438.20" r="1.25" fill="#a3142e" />
<circle cx="210.20" cy="446.90" r="1.25" fill="#a3142e" />
<circle cx="230.20" cy="445.30" r="1.25" fill="#a3142e" />
<circle cx="247.20" cy="448.90" r="1.25" fill="#a3142e" />
<circle cx="203.00" cy="450.60" r="1.25" fill="#a3142e" />
<circle cx="223.80" cy="455.90" r="1.25" fill="#a3142e" />
<circle cx="231.00" cy="463.70" r="1.25" fill="#a3142e" />
<circle cx="200.60" cy="463.10" r="1.25" fill="#a3142e" />
<circle cx="198.80" cy="468.40" r="1.25" fill="#a3142e" />
<circle cx="204.00" cy="468.70" r="1.25" fill="#a3142e" />
<circle cx="207.30" cy="470.30" r="1.25" fill="#a3142e" />
<circle cx="209.20" cy="468.80" r="1.25" fill="#a3142e" />
<circle cx="199.10" cy="478.50" r="1.25" fill="#a3142e" />
<circle cx="257.30" cy="486.90" r="1.25" fill="#a3142e" />
<circle cx="262.50" cy="489.20" r="1.25" fill="#a3142e" />
<circle cx="267.30" cy="492.70" r="1.25" fill="#a3142e" />
<circle cx="290.40" cy="485.40" r="1.25" fill="#a3142e" />
<circle cx="322.70" cy="490.20" r="1.25" fill="#a3142e" />
<circle cx="213.80" cy="491.50" r="1.25" fill="#a3142e" />
<circle cx="202.00" cy="493.80" r="1.25" fill="#a3142e" />
<circle cx="205.10" cy="496.50" r="1.25" fill="#a3142e" />
<circle cx="221.20" cy="501.80" r="1.25" fill="#a3142e" />
<circle cx="235.80" cy="506.20" r="1.25" fill="#a3142e" />
<circle cx="246.90" cy="505.80" r="1.25" fill="#a3142e" />
<circle cx="203.50" cy="508.50" r="1.25" fill="#a3142e" />
<circle cx="218.90" cy="510.80" r="1.25" fill="#a3142e" />
<circle cx="211.80" cy="517.40" r="1.25" fill="#a3142e" />
<circle cx="214.90" cy="519.20" r="1.25" fill="#a3142e" />
<circle cx="211.50" cy="523.10" r="1.25" fill="#a3142e" />
<circle cx="206.60" cy="526.50" r="1.25" fill="#a3142e" />
<circle cx="218.90" cy="525.40" r="1.25" fill="#a3142e" />
<circle cx="223.80" cy="530.00" r="1.25" fill="#a3142e" />
<circle cx="228.00" cy="529.20" r="1.25" fill="#a3142e" />
<circle cx="228.80" cy="533.80" r="1.25" fill="#a3142e" />
<circle cx="220.80" cy="535.40" r="1.25" fill="#a3142e" />
<circle cx="245.10" cy="533.80" r="1.25" fill="#a3142e" />
<circle cx="225.80" cy="542.00" r="1.25" fill="#a3142e" />
<circle cx="213.10" cy="542.00" r="1.25" fill="#a3142e" />
<circle cx="201.10" cy="545.10" r="1.25" fill="#a3142e" />
<circle cx="208.80" cy="549.20" r="1.25" fill="#a3142e" />
<circle cx="198.90" cy="519.20" r="1.25" fill="#a3142e" />
<text x="131.00" y="361.20" font-size="6.5" text-anchor="start" fill="#333" dominant-baseline="central" stroke="#333" stroke-width="0.22" >Ada</text>
<text x="113.70" y="394.80" font-size="6.5" text-anchor="start" fill="#333" dominant-baseline="central" stroke="#333" stroke-width="0.22" >Egr1</text>
<text x="143.00" y="396.50" font-size="6.5" text-anchor="start" fill="#333" dominant-baseline="central" stroke="#333" stroke-width="0.22" >Cd274</text>
<text x="131.00" y="401.50" font-size="6.5" text-anchor="start" fill="#333" dominant-baseline="central" stroke="#333" stroke-width="0.22" >Cd69</text>
<text x="110.80" y="405.80" font-size="6.5" text-anchor="start" fill="#333" dominant-baseline="central" stroke="#333" stroke-width="0.22" >Jun</text>
<text x="125.80" y="412.10" font-size="6.5" text-anchor="start" fill="#333" dominant-baseline="central" stroke="#333" stroke-width="0.22" >Il10</text>
<text x="150.80" y="409.60" font-size="6.5" text-anchor="start" fill="#333" dominant-baseline="central" stroke="#333" stroke-width="0.22" >Birc5</text>
<text x="95.80" y="408.30" font-size="6.5" text-anchor="start" fill="#333" dominant-baseline="central" stroke="#333" stroke-width="0.22" >Fos</text>
<text x="104.00" y="418.30" font-size="6.5" text-anchor="start" fill="#333" dominant-baseline="central" stroke="#333" stroke-width="0.22" >Cd36</text>
<text x="91.20" y="430.40" font-size="6.5" text-anchor="start" fill="#333" dominant-baseline="central" stroke="#333" stroke-width="0.22" >Ccrl2</text>
<text x="120.00" y="442.90" font-size="6.5" text-anchor="start" fill="#333" dominant-baseline="central" stroke="#333" stroke-width="0.22" >Il12a</text>
<text x="147.10" y="445.00" font-size="6.5" text-anchor="start" fill="#333" dominant-baseline="central" stroke="#333" stroke-width="0.22" >Tnfrsf13c</text>
<text x="137.50" y="461.20" font-size="6.5" text-anchor="start" fill="#333" dominant-baseline="central" stroke="#333" stroke-width="0.22" >Irf7</text>
<text x="146.70" y="467.50" font-size="6.5" text-anchor="start" fill="#333" dominant-baseline="central" stroke="#333" stroke-width="0.22" >Ctla4</text>
<text x="107.00" y="467.50" font-size="6.5" text-anchor="start" fill="#333" dominant-baseline="central" stroke="#333" stroke-width="0.22" >Aicda</text>
<text x="51.70" y="479.00" font-size="6.5" text-anchor="start" fill="#333" dominant-baseline="central" stroke="#333" stroke-width="0.22" >Ccl3</text>
<text x="77.70" y="476.50" font-size="6.5" text-anchor="start" fill="#333" dominant-baseline="central" stroke="#333" stroke-width="0.22" >Ccl4</text>
<text x="92.90" y="486.20" font-size="6.5" text-anchor="start" fill="#333" dominant-baseline="central" stroke="#333" stroke-width="0.22" >Cxcl10</text>
<text x="113.00" y="487.70" font-size="6.5" text-anchor="start" fill="#333" dominant-baseline="central" stroke="#333" stroke-width="0.22" >Ccl5</text>
<text x="141.00" y="500.20" font-size="6.5" text-anchor="start" fill="#333" dominant-baseline="central" stroke="#333" stroke-width="0.22" >Cebpb</text>
<text x="123.00" y="519.40" font-size="6.5" text-anchor="start" fill="#333" dominant-baseline="central" stroke="#333" stroke-width="0.22" >Tnfrsf12a</text>
<text x="149.60" y="523.80" font-size="6.5" text-anchor="start" fill="#333" dominant-baseline="central" stroke="#333" stroke-width="0.22" >Il12rb1</text>
<text x="147.70" y="530.40" font-size="6.5" text-anchor="start" fill="#333" dominant-baseline="central" stroke="#333" stroke-width="0.22" >Ccr5</text>
<text x="129.20" y="541.30" font-size="6.5" text-anchor="start" fill="#333" dominant-baseline="central" stroke="#333" stroke-width="0.22" >Zap70</text>
<text x="152.30" y="544.60" font-size="6.5" text-anchor="start" fill="#333" dominant-baseline="central" stroke="#333" stroke-width="0.22" >Cxcr3</text>
<text x="215.70" y="369.20" font-size="6.5" text-anchor="start" fill="#333" dominant-baseline="central" stroke="#333" stroke-width="0.22" >Ccr1</text>
<text x="221.80" y="400.80" font-size="6.5" text-anchor="start" fill="#333" dominant-baseline="central" stroke="#333" stroke-width="0.22" >Cd55</text>
<text x="246.20" y="404.20" font-size="6.5" text-anchor="start" fill="#333" dominant-baseline="central" stroke="#333" stroke-width="0.22" >Itga6</text>
<text x="201.80" y="404.60" font-size="6.5" text-anchor="start" fill="#333" dominant-baseline="central" stroke="#333" stroke-width="0.22" >Il5ra</text>
<text x="216.90" y="416.90" font-size="6.5" text-anchor="start" fill="#333" dominant-baseline="central" stroke="#333" stroke-width="0.22" >Alcam</text>
<text x="227.70" y="430.50" font-size="6.5" text-anchor="start" fill="#333" dominant-baseline="central" stroke="#333" stroke-width="0.22" >Ccr6</text>
<text x="211.60" y="447.00" font-size="6.5" text-anchor="start" fill="#333" dominant-baseline="central" stroke="#333" stroke-width="0.22" >Icosl</text>
<text x="249.70" y="449.00" font-size="6.5" text-anchor="start" fill="#333" dominant-baseline="central" stroke="#333" stroke-width="0.22" >Lgals3</text>
<text x="200.80" y="454.40" font-size="6.5" text-anchor="start" fill="#333" dominant-baseline="central" stroke="#333" stroke-width="0.22" >Fadd</text>
<text x="227.00" y="455.80" font-size="6.5" text-anchor="start" fill="#333" dominant-baseline="central" stroke="#333" stroke-width="0.22" >Il18</text>
<text x="198.50" y="473.30" font-size="6.5" text-anchor="start" fill="#333" dominant-baseline="central" stroke="#333" stroke-width="0.22" >Il1b</text>
<text x="202.00" y="481.80" font-size="6.5" text-anchor="start" fill="#333" dominant-baseline="central" stroke="#333" stroke-width="0.22" >Txnip</text>
<text x="207.70" y="496.20" font-size="6.5" text-anchor="start" fill="#333" dominant-baseline="central" stroke="#333" stroke-width="0.22" >Sell</text>
<text x="265.00" y="488.80" font-size="6.5" text-anchor="start" fill="#333" dominant-baseline="central" stroke="#333" stroke-width="0.22" >Ccr9</text>
<text x="287.50" y="481.20" font-size="6.5" text-anchor="start" fill="#333" dominant-baseline="central" stroke="#333" stroke-width="0.22" >Fcer2a</text>
<text x="324.60" y="490.20" font-size="6.5" text-anchor="start" fill="#333" dominant-baseline="central" stroke="#333" stroke-width="0.22" >Ccr3</text>
<text x="230.80" y="500.30" font-size="6.5" text-anchor="start" fill="#333" dominant-baseline="central" stroke="#333" stroke-width="0.22" >Casp1</text>
<text x="249.20" y="505.40" font-size="6.5" text-anchor="start" fill="#333" dominant-baseline="central" stroke="#333" stroke-width="0.22" >Fasl</text>
<text x="226.20" y="525.40" font-size="6.5" text-anchor="start" fill="#333" dominant-baseline="central" stroke="#333" stroke-width="0.22" >Vcam1</text>
<text x="206.20" y="533.10" font-size="6.5" text-anchor="start" fill="#333" dominant-baseline="central" stroke="#333" stroke-width="0.22" >C1qa</text>
<text x="247.70" y="533.80" font-size="6.5" text-anchor="start" fill="#333" dominant-baseline="central" stroke="#333" stroke-width="0.22" >C6</text>
<text x="227.70" y="542.00" font-size="6.5" text-anchor="start" fill="#333" dominant-baseline="central" stroke="#333" stroke-width="0.22" >C1qb</text>
<line x1="30.40" y1="355.00" x2="30.40" y2="624.30" stroke="#222" stroke-width="1.2" />
<line x1="30.40" y1="624.30" x2="341.50" y2="624.30" stroke="#222" stroke-width="1.2" />
<line x1="28.00" y1="624.30" x2="30.40" y2="624.30" stroke="#222" stroke-width="1" />
<text x="24.00" y="624.30" font-size="6.4" text-anchor="end" fill="#1a1a1a" dominant-baseline="central" stroke="#1a1a1a" stroke-width="0.22" >0</text>
<line x1="28.00" y1="516.80" x2="30.40" y2="516.80" stroke="#222" stroke-width="1" />
<text x="24.00" y="516.80" font-size="6.4" text-anchor="end" fill="#1a1a1a" dominant-baseline="central" stroke="#1a1a1a" stroke-width="0.22" >2</text>
<line x1="28.00" y1="409.30" x2="30.40" y2="409.30" stroke="#222" stroke-width="1" />
<text x="24.00" y="409.30" font-size="6.4" text-anchor="end" fill="#1a1a1a" dominant-baseline="central" stroke="#1a1a1a" stroke-width="0.22" >4</text>
<line x1="55.80" y1="624.30" x2="55.80" y2="626.80" stroke="#222" stroke-width="1" />
<line x1="81.30" y1="624.30" x2="81.30" y2="626.80" stroke="#222" stroke-width="1" />
<line x1="106.80" y1="624.30" x2="106.80" y2="626.80" stroke="#222" stroke-width="1" />
<line x1="132.30" y1="624.30" x2="132.30" y2="626.80" stroke="#222" stroke-width="1" />
<line x1="157.80" y1="624.30" x2="157.80" y2="626.80" stroke="#222" stroke-width="1" />
<line x1="183.30" y1="624.30" x2="183.30" y2="626.80" stroke="#222" stroke-width="1" />
<line x1="208.80" y1="624.30" x2="208.80" y2="626.80" stroke="#222" stroke-width="1" />
<line x1="234.30" y1="624.30" x2="234.30" y2="626.80" stroke="#222" stroke-width="1" />
<line x1="259.80" y1="624.30" x2="259.80" y2="626.80" stroke="#222" stroke-width="1" />
<line x1="285.30" y1="624.30" x2="285.30" y2="626.80" stroke="#222" stroke-width="1" />
<line x1="310.80" y1="624.30" x2="310.80" y2="626.80" stroke="#222" stroke-width="1" />
<line x1="336.30" y1="624.30" x2="336.30" y2="626.80" stroke="#222" stroke-width="1" />
<text x="55.80" y="634.80" font-size="6.4" text-anchor="middle" fill="#1a1a1a" dominant-baseline="central" stroke="#1a1a1a" stroke-width="0.22" >−5</text>
<text x="183.30" y="634.80" font-size="6.4" text-anchor="middle" fill="#1a1a1a" dominant-baseline="central" stroke="#1a1a1a" stroke-width="0.22" >0</text>
<text x="310.80" y="634.80" font-size="6.4" text-anchor="middle" fill="#1a1a1a" dominant-baseline="central" stroke="#1a1a1a" stroke-width="0.22" >5</text>
<text x="174.40" y="646.20" font-size="8.0" text-anchor="middle" fill="#1a1a1a" dominant-baseline="central" stroke="#1a1a1a" stroke-width="0.3" textLength="47.3" lengthAdjust="spacingAndGlyphs" >Log2 fold change</text>
<text x="0" y="0" font-size="7.8" text-anchor="middle" fill="#1a1a1a" dominant-baseline="central" stroke="#1a1a1a" stroke-width="0.3" textLength="44.2" lengthAdjust="spacingAndGlyphs" transform="translate(11.40,489.70) rotate(-90)" >−Log10 <tspan font-style="italic">P</tspan>-value</text>
<rect x="371.50" y="364.10" width="83.70" height="9.30" fill="#1fa6e3" />
<line x1="482.70" y1="368.75" x2="485.90" y2="368.75" stroke="#222" stroke-width="1" />
<text x="490.00" y="368.75" font-size="6.5" text-anchor="start" fill="#1a1a1a" dominant-baseline="central" stroke="#1a1a1a" stroke-width="0.22" >Ccl4</text>
<rect x="371.50" y="381.43" width="80.80" height="9.30" fill="#1fa6e3" />
<line x1="482.70" y1="386.08" x2="485.90" y2="386.08" stroke="#222" stroke-width="1" />
<text x="490.00" y="386.08" font-size="6.5" text-anchor="start" fill="#1a1a1a" dominant-baseline="central" stroke="#1a1a1a" stroke-width="0.22" >Cxcl10</text>
<rect x="371.50" y="398.76" width="70.80" height="9.30" fill="#1fa6e3" />
<line x1="482.70" y1="403.41" x2="485.90" y2="403.41" stroke="#222" stroke-width="1" />
<text x="490.00" y="403.41" font-size="6.5" text-anchor="start" fill="#1a1a1a" dominant-baseline="central" stroke="#1a1a1a" stroke-width="0.22" >Ccrl2</text>
<rect x="371.50" y="416.09" width="69.30" height="9.30" fill="#1fa6e3" />
<line x1="482.70" y1="420.74" x2="485.90" y2="420.74" stroke="#222" stroke-width="1" />
<text x="490.00" y="420.74" font-size="6.5" text-anchor="start" fill="#1a1a1a" dominant-baseline="central" stroke="#1a1a1a" stroke-width="0.22" >Fos</text>
<rect x="371.50" y="433.42" width="61.00" height="9.30" fill="#1fa6e3" />
<line x1="482.70" y1="438.07" x2="485.90" y2="438.07" stroke="#222" stroke-width="1" />
<text x="490.00" y="438.07" font-size="6.5" text-anchor="start" fill="#1a1a1a" dominant-baseline="central" stroke="#1a1a1a" stroke-width="0.22" >Ccl5</text>
<rect x="371.50" y="450.75" width="55.80" height="9.30" fill="#1fa6e3" />
<line x1="482.70" y1="455.40" x2="485.90" y2="455.40" stroke="#222" stroke-width="1" />
<text x="490.00" y="455.40" font-size="6.5" text-anchor="start" fill="#1a1a1a" dominant-baseline="central" stroke="#1a1a1a" stroke-width="0.22" >Jun</text>
<rect x="371.50" y="468.08" width="51.00" height="9.30" fill="#1fa6e3" />
<line x1="482.70" y1="472.73" x2="485.90" y2="472.73" stroke="#222" stroke-width="1" />
<text x="490.00" y="472.73" font-size="6.5" text-anchor="start" fill="#1a1a1a" dominant-baseline="central" stroke="#1a1a1a" stroke-width="0.22" >Egr1</text>
<rect x="371.50" y="485.41" width="48.50" height="9.30" fill="#1fa6e3" />
<line x1="482.70" y1="490.06" x2="485.90" y2="490.06" stroke="#222" stroke-width="1" />
<text x="490.00" y="490.06" font-size="6.5" text-anchor="start" fill="#1a1a1a" dominant-baseline="central" stroke="#1a1a1a" stroke-width="0.22" >F2rl1</text>
<rect x="371.50" y="502.74" width="46.20" height="9.30" fill="#1fa6e3" />
<line x1="482.70" y1="507.39" x2="485.90" y2="507.39" stroke="#222" stroke-width="1" />
<text x="490.00" y="507.39" font-size="6.5" text-anchor="start" fill="#1a1a1a" dominant-baseline="central" stroke="#1a1a1a" stroke-width="0.22" >Cd69</text>
<rect x="371.50" y="520.07" width="43.70" height="9.30" fill="#1fa6e3" />
<line x1="482.70" y1="524.72" x2="485.90" y2="524.72" stroke="#222" stroke-width="1" />
<text x="490.00" y="524.72" font-size="6.5" text-anchor="start" fill="#1a1a1a" dominant-baseline="central" stroke="#1a1a1a" stroke-width="0.22" >Tnfaip3</text>
<rect x="371.50" y="537.40" width="29.30" height="9.30" fill="#1fa6e3" />
<line x1="482.70" y1="542.05" x2="485.90" y2="542.05" stroke="#222" stroke-width="1" />
<text x="490.00" y="542.05" font-size="6.5" text-anchor="start" fill="#1a1a1a" dominant-baseline="central" stroke="#1a1a1a" stroke-width="0.22" >Cdkn1a</text>
<rect x="371.50" y="554.73" width="19.30" height="9.30" fill="#1fa6e3" />
<line x1="482.70" y1="559.38" x2="485.90" y2="559.38" stroke="#222" stroke-width="1" />
<text x="490.00" y="559.38" font-size="6.5" text-anchor="start" fill="#1a1a1a" dominant-baseline="central" stroke="#1a1a1a" stroke-width="0.22" >Cebpb</text>
<rect x="371.50" y="572.06" width="19.10" height="9.30" fill="#1fa6e3" />
<line x1="482.70" y1="576.71" x2="485.90" y2="576.71" stroke="#222" stroke-width="1" />
<text x="490.00" y="576.71" font-size="6.5" text-anchor="start" fill="#1a1a1a" dominant-baseline="central" stroke="#1a1a1a" stroke-width="0.22" >Myc</text>
<rect x="371.50" y="589.39" width="18.70" height="9.30" fill="#1fa6e3" />
<line x1="482.70" y1="594.04" x2="485.90" y2="594.04" stroke="#222" stroke-width="1" />
<text x="490.00" y="594.04" font-size="6.5" text-anchor="start" fill="#1a1a1a" dominant-baseline="central" stroke="#1a1a1a" stroke-width="0.22" >Icam1</text>
<rect x="371.50" y="606.72" width="13.50" height="9.30" fill="#1fa6e3" />
<line x1="482.70" y1="611.37" x2="485.90" y2="611.37" stroke="#222" stroke-width="1" />
<text x="490.00" y="611.37" font-size="6.5" text-anchor="start" fill="#1a1a1a" dominant-baseline="central" stroke="#1a1a1a" stroke-width="0.22" >Plau</text>
<line x1="371.50" y1="355.70" x2="371.50" y2="623.40" stroke="#222" stroke-width="1.2" />
<line x1="482.70" y1="355.40" x2="482.70" y2="623.40" stroke="#222" stroke-width="1.2" />
<line x1="371.50" y1="623.40" x2="482.70" y2="623.40" stroke="#222" stroke-width="1.2" />
<line x1="371.50" y1="623.40" x2="371.50" y2="626.40" stroke="#222" stroke-width="1" />
<text x="0" y="0" font-size="6.4" text-anchor="end" fill="#1a1a1a" dominant-baseline="central" stroke="#1a1a1a" stroke-width="0.22" transform="translate(371.50,630.50) rotate(-90)" >0</text>
<line x1="394.50" y1="623.40" x2="394.50" y2="626.40" stroke="#222" stroke-width="1" />
<text x="0" y="0" font-size="6.4" text-anchor="end" fill="#1a1a1a" dominant-baseline="central" stroke="#1a1a1a" stroke-width="0.22" transform="translate(394.30,630.50) rotate(-90)" >−1</text>
<line x1="412.30" y1="623.40" x2="412.30" y2="626.40" stroke="#222" stroke-width="1" />
<text x="0" y="0" font-size="6.4" text-anchor="end" fill="#1a1a1a" dominant-baseline="central" stroke="#1a1a1a" stroke-width="0.22" transform="translate(416.00,630.50) rotate(-90)" >−2</text>
<line x1="437.90" y1="623.40" x2="437.90" y2="626.40" stroke="#222" stroke-width="1" />
<text x="0" y="0" font-size="6.4" text-anchor="end" fill="#1a1a1a" dominant-baseline="central" stroke="#1a1a1a" stroke-width="0.22" transform="translate(438.00,630.50) rotate(-90)" >−3</text>
<line x1="460.40" y1="623.40" x2="460.40" y2="626.40" stroke="#222" stroke-width="1" />
<text x="0" y="0" font-size="6.4" text-anchor="end" fill="#1a1a1a" dominant-baseline="central" stroke="#1a1a1a" stroke-width="0.22" transform="translate(460.40,630.50) rotate(-90)" >−4</text>
<line x1="482.60" y1="623.40" x2="482.60" y2="626.40" stroke="#222" stroke-width="1" />
<text x="0" y="0" font-size="6.4" text-anchor="end" fill="#1a1a1a" dominant-baseline="central" stroke="#1a1a1a" stroke-width="0.22" transform="translate(482.60,630.50) rotate(-90)" >−5</text>
<text x="426.90" y="646.20" font-size="8.0" text-anchor="middle" fill="#1a1a1a" dominant-baseline="central" stroke="#1a1a1a" stroke-width="0.3" textLength="48.5" lengthAdjust="spacingAndGlyphs" >log2(fold change)</text>
<text x="0" y="0" font-size="7.8" text-anchor="middle" fill="#1a1a1a" dominant-baseline="central" stroke="#1a1a1a" stroke-width="0.3" textLength="117.9" lengthAdjust="spacingAndGlyphs" transform="translate(363.50,488.40) rotate(-90)" >TNF-α via NF-κB - MSigDB hallmark gene</text>
<line x1="458.50" y1="420.50" x2="471.50" y2="420.50" stroke="#111" stroke-width="1.4" />
<path d="M457.0,420.5 L461.8,417.7 M457.0,420.5 L461.8,423.3" stroke="#111" stroke-width="1.4" fill="none" stroke-linecap="round"/>
<line x1="458.50" y1="455.40" x2="471.50" y2="455.40" stroke="#111" stroke-width="1.4" />
<path d="M457.0,455.4 L461.8,452.59999999999997 M457.0,455.4 L461.8,458.2" stroke="#111" stroke-width="1.4" fill="none" stroke-linecap="round"/>
<rect x="0.5" y="0.5" width="519" height="670" fill="none" stroke="#4a4a4a" stroke-width="1"/>
</svg>
</body></html>
